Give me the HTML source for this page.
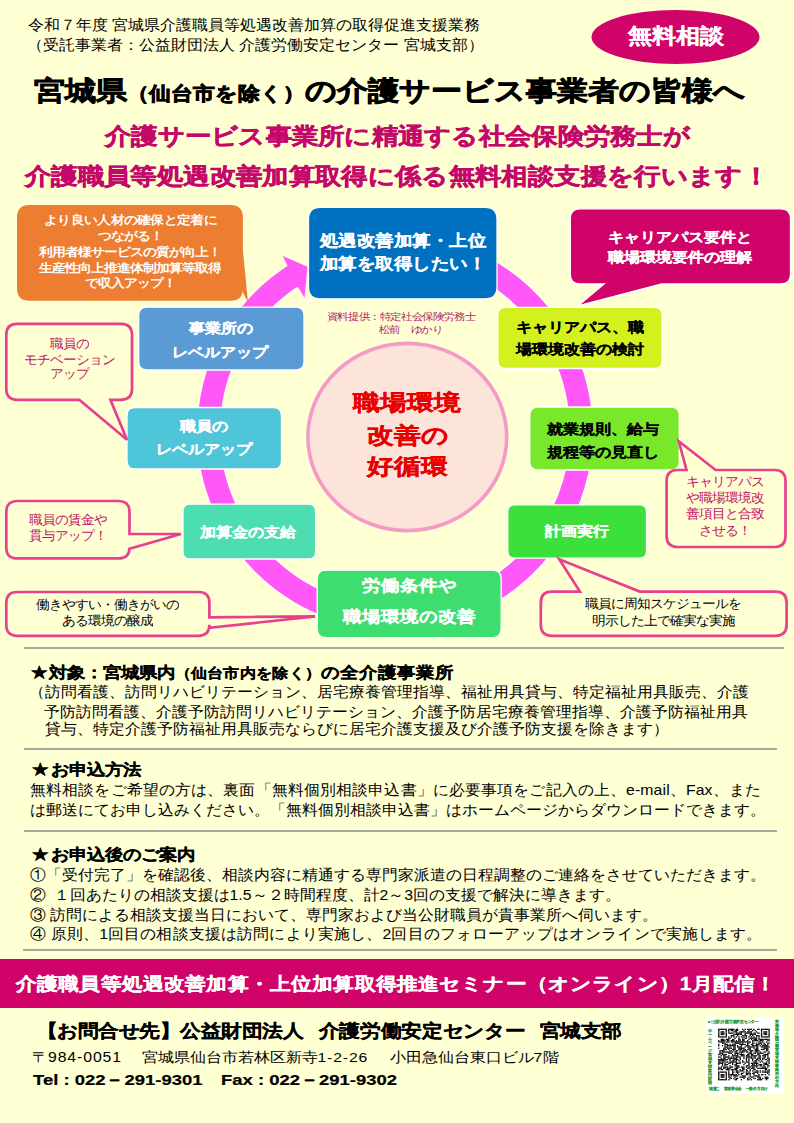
<!DOCTYPE html>
<html><head><meta charset="utf-8">
<style>
html,body{margin:0;padding:0;}
body{width:794px;height:1123px;position:relative;overflow:hidden;background:#FFFFD4;font-family:"Liberation Sans",sans-serif;color:#000;}
.t{position:absolute;white-space:nowrap;line-height:1;transform-origin:0 0;}
.t[style*="bold"]{-webkit-text-stroke:0.014em currentColor;}
.hr{position:absolute;height:2px;background:#A8A8A0;}
svg{position:absolute;left:0;top:0;}
.t i{font-style:normal;display:inline-block;text-align:center;}
.w0{width:16px}.w1{width:24px}.w2{width:31px}.w3{width:22px}.w4{width:23px}.w5{width:32px}.w6{width:26.27px}.w7{width:27.27px}.w8{width:26.36px}.w9{width:27.36px}.w10{width:13.3px}.w11{width:13px}.w12{width:18.5px}.w13{width:19px}.w14{width:10.6px}.w15{width:27px}.w16{width:28px}.w17{width:18px}.w18{width:16.3px}.w19{width:16.12px}.w20{width:16.15px}.w21{width:21.17px}.w22{width:22.17px}.w23{width:20.5px}.w24{width:20.7px}.w25{width:20.6px}
</style></head><body>
<div class="t" style="top:18px;font-size:16px;transform:scale(1,0.94);left:28px;"><i class="w0">令</i><i class="w0">和</i><i class="w0">７</i><i class="w0">年</i><i class="w0">度</i> <i class="w0">宮</i><i class="w0">城</i><i class="w0">県</i><i class="w0">介</i><i class="w0">護</i><i class="w0">職</i><i class="w0">員</i><i class="w0">等</i><i class="w0">処</i><i class="w0">遇</i><i class="w0">改</i><i class="w0">善</i><i class="w0">加</i><i class="w0">算</i><i class="w0">の</i><i class="w0">取</i><i class="w0">得</i><i class="w0">促</i><i class="w0">進</i><i class="w0">支</i><i class="w0">援</i><i class="w0">業</i><i class="w0">務</i></div>
<div class="t" style="top:37.5px;font-size:16px;transform:scale(1,0.94);left:27px;"><i class="w0">（</i><i class="w0">受</i><i class="w0">託</i><i class="w0">事</i><i class="w0">業</i><i class="w0">者</i><i class="w0">：</i><i class="w0">公</i><i class="w0">益</i><i class="w0">財</i><i class="w0">団</i><i class="w0">法</i><i class="w0">人</i> <i class="w0">介</i><i class="w0">護</i><i class="w0">労</i><i class="w0">働</i><i class="w0">安</i><i class="w0">定</i><i class="w0">セ</i><i class="w0">ン</i><i class="w0">タ</i><i class="w0">ー</i> <i class="w0">宮</i><i class="w0">城</i><i class="w0">支</i><i class="w0">部</i><i class="w0">）</i></div>
<svg width="794" height="80"><ellipse cx="675.5" cy="37" rx="84" ry="27" fill="#D00468"/></svg>
<div class="t" style="top:25.5px;font-size:23.6px;transform:scale(1,0.87);left:375.5px;width:600px;text-align:center;color:#fff;font-weight:bold;"><i class="w1">無</i><i class="w1">料</i><i class="w1">相</i><i class="w1">談</i></div>
<div class="t" style="top:77px;font-size:31px;transform:scale(1,0.87);left:34px;font-weight:bold;-webkit-text-stroke:0.9px;"><i class="w2">宮</i><i class="w2">城</i><i class="w2">県</i><span style="font-size:21.6px;"><i class="w3">（</i><i class="w3">仙</i><i class="w3">台</i><i class="w3">市</i><i class="w4">を</i><i class="w3">除</i><i class="w4">く</i><i class="w3">）</i></span><i class="w5">の</i><i class="w2">介</i><i class="w2">護</i><i class="w5">サ</i><i class="w2">ー</i><i class="w5">ビ</i><i class="w5">ス</i><i class="w2">事</i><i class="w2">業</i><i class="w2">者</i><i class="w5">の</i><i class="w2">皆</i><i class="w2">様</i><i class="w5">へ</i></div>
<div class="t" style="top:125px;font-size:26px;transform:scale(1,0.87);left:105px;color:#C4086A;font-weight:bold;letter-spacing:0.27px;-webkit-text-stroke:0.6px;"><i class="w6">介</i><i class="w6">護</i><i class="w7">サ</i><i class="w6">ー</i><i class="w7">ビ</i><i class="w7">ス</i><i class="w6">事</i><i class="w6">業</i><i class="w6">所</i><i class="w7">に</i><i class="w6">精</i><i class="w6">通</i><i class="w7">す</i><i class="w7">る</i><i class="w6">社</i><i class="w6">会</i><i class="w6">保</i><i class="w6">険</i><i class="w6">労</i><i class="w6">務</i><i class="w6">士</i><i class="w7">が</i></div>
<div class="t" style="top:164.5px;font-size:26px;transform:scale(1,0.87);left:25px;color:#C4086A;font-weight:bold;letter-spacing:0.36px;-webkit-text-stroke:0.6px;"><i class="w8">介</i><i class="w8">護</i><i class="w8">職</i><i class="w8">員</i><i class="w8">等</i><i class="w8">処</i><i class="w8">遇</i><i class="w8">改</i><i class="w8">善</i><i class="w8">加</i><i class="w8">算</i><i class="w8">取</i><i class="w8">得</i><i class="w9">に</i><i class="w8">係</i><i class="w9">る</i><i class="w8">無</i><i class="w8">料</i><i class="w8">相</i><i class="w8">談</i><i class="w8">支</i><i class="w8">援</i><i class="w9">を</i><i class="w8">行</i><i class="w9">い</i><i class="w9">ま</i><i class="w9">す</i><i class="w8">！</i></div>
<svg width="794" height="660">
<path d="M290.9,277.3 A186.35,186.35 0 1 0 378.9,246.2" fill="none" stroke="#fff" stroke-width="24.1"/>
<path d="M297.7,272.9 A186.35,186.35 0 1 0 378.9,246.2" fill="none" stroke="#FF57F8" stroke-width="22.5"/>
<polygon points="282.8,256.1 307.5,266.7 304.5,297.9 299,288.4 296,286 285,267 287.9,266.7" fill="#FF57F8"/>
<ellipse cx="407.3" cy="437" rx="99.4" ry="93.6" fill="#FCE4DA" stroke="#F59AC8" stroke-width="3.6"/>
<polygon points="242.9,250 248,302.5 241.3,289" fill="#ED7D31"/>
<path d="M29.5,205 L230.4,205 Q242.9,205 242.9,217.5 L242.9,288.3 Q242.9,300.8 230.4,300.8 L29.5,300.8 Q17,300.8 17,288.3 L17,217.5 Q17,205 29.5,205 Z" fill="#ED7D31"/>
<path d="M320.4,207.3 L485.1,207.3 Q497,207.3 497,219.20000000000002 L497,286.90000000000003 Q497,298.8 485.1,298.8 L320.4,298.8 Q308.5,298.8 308.5,286.90000000000003 L308.5,219.20000000000002 Q308.5,207.3 320.4,207.3 Z" fill="#0070C0" stroke="#fff" stroke-width="1.3"/>
<path d="M146.89999999999998,307.2 L295.8,307.2 Q304,307.2 304,315.4 L304,361.8 Q304,370 295.8,370 L146.89999999999998,370 Q138.7,370 138.7,361.8 L138.7,315.4 Q138.7,307.2 146.89999999999998,307.2 Z" fill="#5B9BD5" stroke="#fff" stroke-width="1.3"/>
<path d="M135.0,407.5 L273.5,407.5 Q281.5,407.5 281.5,415.5 L281.5,461.0 Q281.5,469 273.5,469 L135.0,469 Q127,469 127,461.0 L127,415.5 Q127,407.5 135.0,407.5 Z" fill="#4EC5D8" stroke="#fff" stroke-width="1.3"/>
<path d="M190.1,504.2 L308.5,504.2 Q315.6,504.2 315.6,511.3 L315.6,551.9 Q315.6,559 308.5,559 L190.1,559 Q183,559 183,551.9 L183,511.3 Q183,504.2 190.1,504.2 Z" fill="#4CDDB0" stroke="#fff" stroke-width="1.3"/>
<path d="M326.0,570.2 L492.4,570.2 Q501.2,570.2 501.2,579.0 L501.2,628.8000000000001 Q501.2,637.6 492.4,637.6 L326.0,637.6 Q317.2,637.6 317.2,628.8000000000001 L317.2,579.0 Q317.2,570.2 326.0,570.2 Z" fill="#3DDD70" stroke="#fff" stroke-width="1.3"/>
<path d="M514.7,504.8 L639.6,504.8 Q646.5,504.8 646.5,511.7 L646.5,551.3000000000001 Q646.5,558.2 639.6,558.2 L514.7,558.2 Q507.8,558.2 507.8,551.3000000000001 L507.8,511.7 Q507.8,504.8 514.7,504.8 Z" fill="#3CE03A" stroke="#fff" stroke-width="1.3"/>
<path d="M538.0,407 L671.0999999999999,407 Q679.3,407 679.3,415.2 L679.3,461.8 Q679.3,470 671.0999999999999,470 L538.0,470 Q529.8,470 529.8,461.8 L529.8,415.2 Q529.8,407 538.0,407 Z" fill="#7AE82A" stroke="#fff" stroke-width="1.3"/>
<path d="M505.8,307.3 L654.2,307.3 Q662.2,307.3 662.2,315.3 L662.2,360.5 Q662.2,368.5 654.2,368.5 L505.8,368.5 Q497.8,368.5 497.8,360.5 L497.8,315.3 Q497.8,307.3 505.8,307.3 Z" fill="#D4F01E" stroke="#fff" stroke-width="1.3"/>
<path d="M580.0999999999999,208.8 L780.7,208.8 Q790.5,208.8 790.5,218.60000000000002 L790.5,274.2 Q790.5,284 780.7,284 L661.7,284 L577.7,306 L604.2,284 L580.0999999999999,284 Q570.3,284 570.3,274.2 L570.3,218.60000000000002 Q570.3,208.8 580.0999999999999,208.8 Z" fill="#D00468" stroke="#fff" stroke-width="1.3"/>
<path d="M17.3,323.8 L121.0,323.8 Q132.0,323.8 132.0,334.8 L132.0,388.8 Q132.0,399.8 121.0,399.8 L110.4,399.8 L127,439.7 L79.3,399.8 L17.3,399.8 Q6.3,399.8 6.3,388.8 L6.3,334.8 Q6.3,323.8 17.3,323.8 Z" fill="#FFFFD4" stroke="#E8408C" stroke-width="2.7" stroke-linejoin="miter"/>
<path d="M17.3,501 L118.5,501 Q129.5,501 129.5,512 L129.5,534 L180.9,534 L129.5,548.8 L129.5,547.4 Q129.5,558.4 118.5,558.4 L17.3,558.4 Q6.3,558.4 6.3,547.4 L6.3,512 Q6.3,501 17.3,501 Z" fill="#FFFFD4" stroke="#E8408C" stroke-width="2.7" stroke-linejoin="miter"/>
<path d="M17.3,592 L198.4,592 Q209.4,592 209.4,603 L209.4,617.3 L315.2,616.4 L209.4,627.8 L209.4,624.8 Q209.4,635.8 198.4,635.8 L17.3,635.8 Q6.3,635.8 6.3,624.8 L6.3,603 Q6.3,592 17.3,592 Z" fill="#FFFFD4" stroke="#E8408C" stroke-width="2.7" stroke-linejoin="miter"/>
<path d="M677.6,470 L686.5,470 L678.8,441.3 L715.6,470 L774.5,470 Q785.5,470 785.5,481 L785.5,536 Q785.5,547 774.5,547 L677.6,547 Q666.6,547 666.6,536 L666.6,481 Q666.6,470 677.6,470 Z" fill="#FFFFD4" stroke="#E8408C" stroke-width="2.7" stroke-linejoin="miter"/>
<path d="M551.8,591.6 L579.9,591.6 L559.3,559.3 L639.7,591.6 L775.6,591.6 Q786.6,591.6 786.6,602.6 L786.6,624.8 Q786.6,635.8 775.6,635.8 L551.8,635.8 Q540.8,635.8 540.8,624.8 L540.8,602.6 Q540.8,591.6 551.8,591.6 Z" fill="#FFFFD4" stroke="#E8408C" stroke-width="2.7" stroke-linejoin="miter"/>
</svg>
<div class="t" style="top:214px;font-size:13.3px;transform:scale(1,0.87);left:-169.5px;width:600px;text-align:center;color:#fff;font-weight:bold;-webkit-text-stroke:0;letter-spacing:0.3px;"><i class="w10">よ</i><i class="w10">り</i><i class="w10">良</i><i class="w10">い</i><i class="w10">人</i><i class="w10">材</i><i class="w10">の</i><i class="w10">確</i><i class="w10">保</i><i class="w10">と</i><i class="w10">定</i><i class="w10">着</i><i class="w10">に</i></div>
<div class="t" style="top:229.5px;font-size:13.3px;transform:scale(1,0.87);left:-169.5px;width:600px;text-align:center;color:#fff;font-weight:bold;-webkit-text-stroke:0;"><i class="w11">つ</i><i class="w11">な</i><i class="w11">が</i><i class="w11">る</i><i class="w11">！</i></div>
<div class="t" style="top:245.8px;font-size:13.3px;transform:scale(1,0.87);left:-170px;width:600px;text-align:center;color:#fff;font-weight:bold;-webkit-text-stroke:0;"><i class="w11">利</i><i class="w11">用</i><i class="w11">者</i><i class="w11">様</i><i class="w11">サ</i><i class="w11">ー</i><i class="w11">ビ</i><i class="w11">ス</i><i class="w11">の</i><i class="w11">質</i><i class="w11">が</i><i class="w11">向</i><i class="w11">上</i><i class="w11">！</i></div>
<div class="t" style="top:262px;font-size:13.3px;transform:scale(1,0.87);left:-170px;width:600px;text-align:center;color:#fff;font-weight:bold;-webkit-text-stroke:0;"><i class="w11">生</i><i class="w11">産</i><i class="w11">性</i><i class="w11">向</i><i class="w11">上</i><i class="w11">推</i><i class="w11">進</i><i class="w11">体</i><i class="w11">制</i><i class="w11">加</i><i class="w11">算</i><i class="w11">等</i><i class="w11">取</i><i class="w11">得</i></div>
<div class="t" style="top:277.3px;font-size:13.3px;transform:scale(1,0.87);left:-169.5px;width:600px;text-align:center;color:#fff;font-weight:bold;-webkit-text-stroke:0;"><i class="w11">で</i><i class="w11">収</i><i class="w11">入</i><i class="w11">ア</i><i class="w11">ッ</i><i class="w11">プ</i><i class="w11">！</i></div>
<div class="t" style="top:233px;font-size:18.4px;transform:scale(1,0.87);left:103px;width:600px;text-align:center;color:#fff;font-weight:bold;letter-spacing:0.5px;"><i class="w12">処</i><i class="w12">遇</i><i class="w12">改</i><i class="w12">善</i><i class="w12">加</i><i class="w12">算</i><i class="w12">・</i><i class="w12">上</i><i class="w12">位</i></div>
<div class="t" style="top:255.5px;font-size:18.4px;transform:scale(1,0.87);left:103px;width:600px;text-align:center;color:#fff;font-weight:bold;letter-spacing:0.5px;"><i class="w12">加</i><i class="w12">算</i><i class="w12">を</i><i class="w12">取</i><i class="w12">得</i><i class="w12">し</i><i class="w12">た</i><i class="w12">い</i><i class="w12">！</i></div>
<div class="t" style="top:321.5px;font-size:16px;transform:scale(1,0.87);left:-79px;width:600px;text-align:center;color:#fff;font-weight:bold;"><i class="w0">事</i><i class="w0">業</i><i class="w0">所</i><i class="w0">の</i></div>
<div class="t" style="top:346px;font-size:16px;transform:scale(1,0.87);left:-80px;width:600px;text-align:center;color:#fff;font-weight:bold;"><i class="w0">レ</i><i class="w0">ベ</i><i class="w0">ル</i><i class="w0">ア</i><i class="w0">ッ</i><i class="w0">プ</i></div>
<div class="t" style="top:420px;font-size:16px;transform:scale(1,0.87);left:-96px;width:600px;text-align:center;color:#fff;font-weight:bold;"><i class="w0">職</i><i class="w0">員</i><i class="w0">の</i></div>
<div class="t" style="top:443px;font-size:16px;transform:scale(1,0.87);left:-96px;width:600px;text-align:center;color:#fff;font-weight:bold;"><i class="w0">レ</i><i class="w0">ベ</i><i class="w0">ル</i><i class="w0">ア</i><i class="w0">ッ</i><i class="w0">プ</i></div>
<div class="t" style="top:526px;font-size:16px;transform:scale(1,0.87);left:-52px;width:600px;text-align:center;color:#fff;font-weight:bold;"><i class="w0">加</i><i class="w0">算</i><i class="w0">金</i><i class="w0">の</i><i class="w0">支</i><i class="w0">給</i></div>
<div class="t" style="top:577.5px;font-size:18.8px;transform:scale(1,0.87);left:109.30000000000001px;width:600px;text-align:center;color:#fff;font-weight:bold;"><i class="w13">労</i><i class="w13">働</i><i class="w13">条</i><i class="w13">件</i><i class="w13">や</i></div>
<div class="t" style="top:609px;font-size:18.6px;transform:scale(1,0.87);left:109px;width:600px;text-align:center;color:#fff;font-weight:bold;"><i class="w13">職</i><i class="w13">場</i><i class="w13">環</i><i class="w13">境</i><i class="w13">の</i><i class="w13">改</i><i class="w13">善</i></div>
<div class="t" style="top:525px;font-size:16px;transform:scale(1,0.87);left:277px;width:600px;text-align:center;color:#fff;font-weight:bold;"><i class="w0">計</i><i class="w0">画</i><i class="w0">実</i><i class="w0">行</i></div>
<div class="t" style="top:422.5px;font-size:16px;transform:scale(1,0.87);left:303px;width:600px;text-align:center;font-weight:bold;"><i class="w0">就</i><i class="w0">業</i><i class="w0">規</i><i class="w0">則</i><i class="w0">、</i><i class="w0">給</i><i class="w0">与</i></div>
<div class="t" style="top:445.5px;font-size:16px;transform:scale(1,0.87);left:303px;width:600px;text-align:center;font-weight:bold;"><i class="w0">規</i><i class="w0">程</i><i class="w0">等</i><i class="w0">の</i><i class="w0">見</i><i class="w0">直</i><i class="w0">し</i></div>
<div class="t" style="top:320.5px;font-size:16px;transform:scale(1,0.87);left:280px;width:600px;text-align:center;font-weight:bold;"><i class="w0">キ</i><i class="w0">ャ</i><i class="w0">リ</i><i class="w0">ア</i><i class="w0">パ</i><i class="w0">ス</i><i class="w0">、</i><i class="w0">職</i></div>
<div class="t" style="top:343px;font-size:16px;transform:scale(1,0.87);left:280px;width:600px;text-align:center;font-weight:bold;"><i class="w0">場</i><i class="w0">環</i><i class="w0">境</i><i class="w0">改</i><i class="w0">善</i><i class="w0">の</i><i class="w0">検</i><i class="w0">討</i></div>
<div class="t" style="top:230.5px;font-size:15.7px;transform:scale(1,0.87);left:380px;width:600px;text-align:center;color:#fff;font-weight:bold;"><i class="w0">キ</i><i class="w0">ャ</i><i class="w0">リ</i><i class="w0">ア</i><i class="w0">パ</i><i class="w0">ス</i><i class="w0">要</i><i class="w0">件</i><i class="w0">と</i></div>
<div class="t" style="top:250.5px;font-size:15.7px;transform:scale(1,0.87);left:380px;width:600px;text-align:center;color:#fff;font-weight:bold;"><i class="w0">職</i><i class="w0">場</i><i class="w0">環</i><i class="w0">境</i><i class="w0">要</i><i class="w0">件</i><i class="w0">の</i><i class="w0">理</i><i class="w0">解</i></div>
<div class="t" style="top:337.7px;font-size:13.3px;transform:scale(1,0.95);left:-231px;width:600px;text-align:center;color:#C0106A;"><i class="w11">職</i><i class="w11">員</i><i class="w11">の</i></div>
<div class="t" style="top:353.5px;font-size:13.3px;transform:scale(1,0.95);left:-231px;width:600px;text-align:center;color:#C0106A;"><i class="w11">モ</i><i class="w11">チ</i><i class="w11">ベ</i><i class="w11">ー</i><i class="w11">シ</i><i class="w11">ョ</i><i class="w11">ン</i></div>
<div class="t" style="top:368.3px;font-size:13.3px;transform:scale(1,0.95);left:-231px;width:600px;text-align:center;color:#C0106A;"><i class="w11">ア</i><i class="w11">ッ</i><i class="w11">プ</i></div>
<div class="t" style="top:513.8px;font-size:13.3px;transform:scale(1,0.95);left:-232px;width:600px;text-align:center;color:#C0106A;"><i class="w11">職</i><i class="w11">員</i><i class="w11">の</i><i class="w11">賃</i><i class="w11">金</i><i class="w11">や</i></div>
<div class="t" style="top:529.6px;font-size:13.3px;transform:scale(1,0.95);left:-232px;width:600px;text-align:center;color:#C0106A;"><i class="w11">貫</i><i class="w11">与</i><i class="w11">ア</i><i class="w11">ッ</i><i class="w11">プ</i><i class="w11">！</i></div>
<div class="t" style="top:599px;font-size:13.3px;transform:scale(1,0.95);left:-193px;width:600px;text-align:center;"><i class="w11">働</i><i class="w11">き</i><i class="w11">や</i><i class="w11">す</i><i class="w11">い</i><i class="w11">・</i><i class="w11">働</i><i class="w11">き</i><i class="w11">が</i><i class="w11">い</i><i class="w11">の</i></div>
<div class="t" style="top:614.7px;font-size:13.3px;transform:scale(1,0.95);left:-193px;width:600px;text-align:center;"><i class="w11">あ</i><i class="w11">る</i><i class="w11">環</i><i class="w11">境</i><i class="w11">の</i><i class="w11">醸</i><i class="w11">成</i></div>
<div class="t" style="top:476px;font-size:13.3px;transform:scale(1,0.95);left:425px;width:600px;text-align:center;color:#C0106A;"><i class="w11">キ</i><i class="w11">ャ</i><i class="w11">リ</i><i class="w11">ア</i><i class="w11">パ</i><i class="w11">ス</i></div>
<div class="t" style="top:492.3px;font-size:13.3px;transform:scale(1,0.95);left:425px;width:600px;text-align:center;color:#C0106A;"><i class="w11">や</i><i class="w11">職</i><i class="w11">場</i><i class="w11">環</i><i class="w11">境</i><i class="w11">改</i></div>
<div class="t" style="top:508.3px;font-size:13.3px;transform:scale(1,0.95);left:425px;width:600px;text-align:center;color:#C0106A;"><i class="w11">善</i><i class="w11">項</i><i class="w11">目</i><i class="w11">と</i><i class="w11">合</i><i class="w11">致</i></div>
<div class="t" style="top:524.5px;font-size:13.3px;transform:scale(1,0.95);left:425px;width:600px;text-align:center;color:#C0106A;"><i class="w11">さ</i><i class="w11">せ</i><i class="w11">る</i><i class="w11">！</i></div>
<div class="t" style="top:598.2px;font-size:13.3px;transform:scale(1,0.95);left:363px;width:600px;text-align:center;"><i class="w11">職</i><i class="w11">員</i><i class="w11">に</i><i class="w11">周</i><i class="w11">知</i><i class="w11">ス</i><i class="w11">ケ</i><i class="w11">ジ</i><i class="w11">ュ</i><i class="w11">ー</i><i class="w11">ル</i><i class="w11">を</i></div>
<div class="t" style="top:614.8px;font-size:13.3px;transform:scale(1,0.95);left:363px;width:600px;text-align:center;"><i class="w11">明</i><i class="w11">示</i><i class="w11">し</i><i class="w11">た</i><i class="w11">上</i><i class="w11">で</i><i class="w11">確</i><i class="w11">実</i><i class="w11">な</i><i class="w11">実</i><i class="w11">施</i></div>
<div class="t" style="top:311.5px;font-size:11px;transform:scale(1,0.87);left:101px;width:600px;text-align:center;color:#B0246E;letter-spacing:-0.4px;"><i class="w14">資</i><i class="w14">料</i><i class="w14">提</i><i class="w14">供</i><i class="w14">：</i><i class="w14">特</i><i class="w14">定</i><i class="w14">社</i><i class="w14">会</i><i class="w14">保</i><i class="w14">険</i><i class="w14">労</i><i class="w14">務</i><i class="w14">士</i></div>
<div class="t" style="top:324.5px;font-size:11px;transform:scale(1,0.87);left:110.5px;width:600px;text-align:center;color:#B0246E;letter-spacing:-0.4px;"><i class="w14">松</i><i class="w14">前</i><i class="w14">　</i><i class="w14">ゆ</i><i class="w14">か</i><i class="w14">り</i></div>
<div class="t" style="top:392px;font-size:27px;transform:scale(1,0.82);left:107.30000000000001px;width:600px;text-align:center;color:#E80000;font-weight:bold;"><i class="w15">職</i><i class="w15">場</i><i class="w15">環</i><i class="w15">境</i></div>
<div class="t" style="top:424.5px;font-size:27px;transform:scale(1,0.82);left:108px;width:600px;text-align:center;color:#E80000;font-weight:bold;"><i class="w15">改</i><i class="w15">善</i><i class="w16">の</i></div>
<div class="t" style="top:455.5px;font-size:27px;transform:scale(1,0.82);left:107.30000000000001px;width:600px;text-align:center;color:#E80000;font-weight:bold;"><i class="w15">好</i><i class="w15">循</i><i class="w15">環</i></div>
<div class="hr" style="left:24px;top:647.2px;width:760px;"></div>
<div class="hr" style="left:24px;top:748px;width:753px;"></div>
<div class="hr" style="left:24px;top:830.2px;width:753px;"></div>
<div class="hr" style="left:23px;top:949.2px;width:754px;"></div>
<div class="t" style="top:665px;font-size:18.3px;transform:scale(1,0.87);left:30.5px;font-weight:bold;">★<span style="margin-left:2px"></span><i class="w17">対</i><i class="w17">象</i><i class="w17">：</i><i class="w17">宮</i><i class="w17">城</i><i class="w17">県</i><i class="w17">内</i><span style="font-size:16px;letter-spacing:0.3px"><i class="w18">（</i><i class="w18">仙</i><i class="w18">台</i><i class="w18">市</i><i class="w18">内</i><i class="w18">を</i><i class="w18">除</i><i class="w18">く</i><i class="w18">）</i></span><span style="font-size:18.6px"><i class="w13">の</i><i class="w13">全</i><i class="w13">介</i><i class="w13">護</i><i class="w13">事</i><i class="w13">業</i><i class="w13">所</i></span></div>
<div class="t" style="top:685.2px;font-size:15.8px;transform:scale(1,0.95);left:29px;"><i class="w0">（</i><i class="w0">訪</i><i class="w0">問</i><i class="w0">看</i><i class="w0">護</i><i class="w0">、</i><i class="w0">訪</i><i class="w0">問</i><i class="w0">リ</i><i class="w0">ハ</i><i class="w0">ビ</i><i class="w0">リ</i><i class="w0">テ</i><i class="w0">ー</i><i class="w0">シ</i><i class="w0">ョ</i><i class="w0">ン</i><i class="w0">、</i><i class="w0">居</i><i class="w0">宅</i><i class="w0">療</i><i class="w0">養</i><i class="w0">管</i><i class="w0">理</i><i class="w0">指</i><i class="w0">導</i><i class="w0">、</i><i class="w0">福</i><i class="w0">祉</i><i class="w0">用</i><i class="w0">具</i><i class="w0">貸</i><i class="w0">与</i><i class="w0">、</i><i class="w0">特</i><i class="w0">定</i><i class="w0">福</i><i class="w0">祉</i><i class="w0">用</i><i class="w0">具</i><i class="w0">販</i><i class="w0">売</i><i class="w0">、</i><i class="w0">介</i><i class="w0">護</i></div>
<div class="t" style="top:704.6px;font-size:15.8px;transform:scale(1,0.95);left:44px;"><i class="w0">予</i><i class="w0">防</i><i class="w0">訪</i><i class="w0">問</i><i class="w0">看</i><i class="w0">護</i><i class="w0">、</i><i class="w0">介</i><i class="w0">護</i><i class="w0">予</i><i class="w0">防</i><i class="w0">訪</i><i class="w0">問</i><i class="w0">リ</i><i class="w0">ハ</i><i class="w0">ビ</i><i class="w0">リ</i><i class="w0">テ</i><i class="w0">ー</i><i class="w0">シ</i><i class="w0">ョ</i><i class="w0">ン</i><i class="w0">、</i><i class="w0">介</i><i class="w0">護</i><i class="w0">予</i><i class="w0">防</i><i class="w0">居</i><i class="w0">宅</i><i class="w0">療</i><i class="w0">養</i><i class="w0">管</i><i class="w0">理</i><i class="w0">指</i><i class="w0">導</i><i class="w0">、</i><i class="w0">介</i><i class="w0">護</i><i class="w0">予</i><i class="w0">防</i><i class="w0">福</i><i class="w0">祉</i><i class="w0">用</i><i class="w0">具</i></div>
<div class="t" style="top:722.2px;font-size:15.8px;transform:scale(1,0.95);left:45px;"><i class="w0">貸</i><i class="w0">与</i><i class="w0">、</i><i class="w0">特</i><i class="w0">定</i><i class="w0">介</i><i class="w0">護</i><i class="w0">予</i><i class="w0">防</i><i class="w0">福</i><i class="w0">祉</i><i class="w0">用</i><i class="w0">具</i><i class="w0">販</i><i class="w0">売</i><i class="w0">な</i><i class="w0">ら</i><i class="w0">び</i><i class="w0">に</i><i class="w0">居</i><i class="w0">宅</i><i class="w0">介</i><i class="w0">護</i><i class="w0">支</i><i class="w0">援</i><i class="w0">及</i><i class="w0">び</i><i class="w0">介</i><i class="w0">護</i><i class="w0">予</i><i class="w0">防</i><i class="w0">支</i><i class="w0">援</i><i class="w0">を</i><i class="w0">除</i><i class="w0">き</i><i class="w0">ま</i><i class="w0">す</i><i class="w0">）</i></div>
<div class="t" style="top:762px;font-size:18.2px;transform:scale(1,0.87);left:32px;font-weight:bold;">★<span style="margin-left:3px"></span><i class="w17">お</i><i class="w17">申</i><i class="w17">込</i><i class="w17">方</i><i class="w17">法</i></div>
<div class="t" style="top:782.8px;font-size:15.8px;transform:scale(1,0.95);left:30px;letter-spacing:0.12px;"><i class="w19">無</i><i class="w19">料</i><i class="w19">相</i><i class="w19">談</i><i class="w19">を</i><i class="w19">ご</i><i class="w19">希</i><i class="w19">望</i><i class="w19">の</i><i class="w19">方</i><i class="w19">は</i><i class="w19">、</i><i class="w19">裏</i><i class="w19">面</i><i class="w19">「</i><i class="w19">無</i><i class="w19">料</i><i class="w19">個</i><i class="w19">別</i><i class="w19">相</i><i class="w19">談</i><i class="w19">申</i><i class="w19">込</i><i class="w19">書</i><i class="w19">」</i><i class="w19">に</i><i class="w19">必</i><i class="w19">要</i><i class="w19">事</i><i class="w19">項</i><i class="w19">を</i><i class="w19">ご</i><i class="w19">記</i><i class="w19">入</i><i class="w19">の</i><i class="w19">上</i><i class="w19">、</i>e-mail<i class="w19">、</i>Fax<i class="w19">、</i><i class="w19">ま</i><i class="w19">た</i></div>
<div class="t" style="top:803.0px;font-size:15.8px;transform:scale(1,0.95);left:30px;"><i class="w0">は</i><i class="w0">郵</i><i class="w0">送</i><i class="w0">に</i><i class="w0">て</i><i class="w0">お</i><i class="w0">申</i><i class="w0">し</i><i class="w0">込</i><i class="w0">み</i><i class="w0">く</i><i class="w0">だ</i><i class="w0">さ</i><i class="w0">い</i><i class="w0">。</i><i class="w0">「</i><i class="w0">無</i><i class="w0">料</i><i class="w0">個</i><i class="w0">別</i><i class="w0">相</i><i class="w0">談</i><i class="w0">申</i><i class="w0">込</i><i class="w0">書</i><i class="w0">」</i><i class="w0">は</i><i class="w0">ホ</i><i class="w0">ー</i><i class="w0">ム</i><i class="w0">ペ</i><i class="w0">ー</i><i class="w0">ジ</i><i class="w0">か</i><i class="w0">ら</i><i class="w0">ダ</i><i class="w0">ウ</i><i class="w0">ン</i><i class="w0">ロ</i><i class="w0">ー</i><i class="w0">ド</i><i class="w0">で</i><i class="w0">き</i><i class="w0">ま</i><i class="w0">す</i><i class="w0">。</i></div>
<div class="t" style="top:846.8px;font-size:18.2px;transform:scale(1,0.87);left:32px;font-weight:bold;">★<span style="margin-left:3px"></span><i class="w17">お</i><i class="w17">申</i><i class="w17">込</i><i class="w17">後</i><i class="w17">の</i><i class="w17">ご</i><i class="w17">案</i><i class="w17">内</i></div>
<div class="t" style="top:867.8px;font-size:15.8px;transform:scale(1,0.95);left:30px;">①「受<i class="w0">付</i><i class="w0">完</i><i class="w0">了</i><i class="w0">」</i><i class="w0">を</i><i class="w0">確</i><i class="w0">認</i><i class="w0">後</i><i class="w0">、</i><i class="w0">相</i><i class="w0">談</i><i class="w0">内</i><i class="w0">容</i><i class="w0">に</i><i class="w0">精</i><i class="w0">通</i><i class="w0">す</i><i class="w0">る</i><i class="w0">専</i><i class="w0">門</i><i class="w0">家</i><i class="w0">派</i><i class="w0">遣</i><i class="w0">の</i><i class="w0">日</i><i class="w0">程</i><i class="w0">調</i><i class="w0">整</i><i class="w0">の</i><i class="w0">ご</i><i class="w0">連</i><i class="w0">絡</i><i class="w0">を</i><i class="w0">さ</i><i class="w0">せ</i><i class="w0">て</i><i class="w0">い</i><i class="w0">た</i><i class="w0">だ</i><i class="w0">き</i><i class="w0">ま</i><i class="w0">す</i><i class="w0">。</i></div>
<div class="t" style="top:888.0px;font-size:15.8px;transform:scale(1,0.95);left:30px;">②&nbsp;&thinsp;１回<i class="w0">あ</i><i class="w0">た</i><i class="w0">り</i><i class="w0">の</i><i class="w0">相</i><i class="w0">談</i><i class="w0">支</i><i class="w0">援</i><i class="w0">は</i>1.5<i class="w0">～</i><i class="w0">２</i><i class="w0">時</i><i class="w0">間</i><i class="w0">程</i><i class="w0">度</i><i class="w0">、</i><i class="w0">計</i>2<i class="w0">～</i>3<i class="w0">回</i><i class="w0">の</i><i class="w0">支</i><i class="w0">援</i><i class="w0">で</i><i class="w0">解</i><i class="w0">決</i><i class="w0">に</i><i class="w0">導</i><i class="w0">き</i><i class="w0">ま</i><i class="w0">す</i><i class="w0">。</i></div>
<div class="t" style="top:907.6px;font-size:15.8px;transform:scale(1,0.95);left:30px;">③ 訪<i class="w0">問</i><i class="w0">に</i><i class="w0">よ</i><i class="w0">る</i><i class="w0">相</i><i class="w0">談</i><i class="w0">支</i><i class="w0">援</i><i class="w0">当</i><i class="w0">日</i><i class="w0">に</i><i class="w0">お</i><i class="w0">い</i><i class="w0">て</i><i class="w0">、</i><i class="w0">専</i><i class="w0">門</i><i class="w0">家</i><i class="w0">お</i><i class="w0">よ</i><i class="w0">び</i><i class="w0">当</i><i class="w0">公</i><i class="w0">財</i><i class="w0">職</i><i class="w0">員</i><i class="w0">が</i><i class="w0">貴</i><i class="w0">事</i><i class="w0">業</i><i class="w0">所</i><i class="w0">へ</i><i class="w0">伺</i><i class="w0">い</i><i class="w0">ま</i><i class="w0">す</i><i class="w0">。</i></div>
<div class="t" style="top:927.0px;font-size:15.8px;transform:scale(1,0.95);left:30px;letter-spacing:0.15px;">④ 原<i class="w20">則</i><i class="w20">、</i>1<i class="w20">回</i><i class="w20">目</i><i class="w20">の</i><i class="w20">相</i><i class="w20">談</i><i class="w20">支</i><i class="w20">援</i><i class="w20">は</i><i class="w20">訪</i><i class="w20">問</i><i class="w20">に</i><i class="w20">よ</i><i class="w20">り</i><i class="w20">実</i><i class="w20">施</i><i class="w20">し</i><i class="w20">、</i>2<i class="w20">回</i><i class="w20">目</i><i class="w20">の</i><i class="w20">フ</i><i class="w20">ォ</i><i class="w20">ロ</i><i class="w20">ー</i><i class="w20">ア</i><i class="w20">ッ</i><i class="w20">プ</i><i class="w20">は</i><i class="w20">オ</i><i class="w20">ン</i><i class="w20">ラ</i><i class="w20">イ</i><i class="w20">ン</i><i class="w20">で</i><i class="w20">実</i><i class="w20">施</i><i class="w20">し</i><i class="w20">ま</i><i class="w20">す</i><i class="w20">。</i></div>
<div style="position:absolute;left:0;top:959px;width:794px;height:49px;background:#D00468;"></div>
<div class="t" style="top:973.5px;font-size:21px;transform:scale(1,0.87);left:16px;color:#fff;font-weight:bold;letter-spacing:0.17px;"><i class="w21">介</i><i class="w21">護</i><i class="w21">職</i><i class="w21">員</i><i class="w21">等</i><i class="w21">処</i><i class="w21">遇</i><i class="w21">改</i><i class="w21">善</i><i class="w21">加</i><i class="w21">算</i><i class="w21">・</i><i class="w21">上</i><i class="w21">位</i><i class="w21">加</i><i class="w21">算</i><i class="w21">取</i><i class="w21">得</i><i class="w21">推</i><i class="w21">進</i><i class="w22">セ</i><i class="w22">ミ</i><i class="w22">ナ</i><i class="w21">ー</i><i class="w21">（</i><i class="w22">オ</i><i class="w22">ン</i><i class="w22">ラ</i><i class="w22">イ</i><i class="w22">ン</i><i class="w21">）</i>1<i class="w21">月</i><i class="w21">配</i><i class="w21">信</i><i class="w21">！</i></div>
<div class="t" style="top:1022px;font-size:20.4px;transform:scale(1,0.87);left:36.5px;font-weight:bold;letter-spacing:0.5px;"><i class="w23">【</i><i class="w23">お</i><i class="w23">問</i><i class="w23">合</i><i class="w23">せ</i><i class="w23">先</i><i class="w23">】</i><i class="w23">公</i><i class="w23">益</i><i class="w23">財</i><i class="w23">団</i><i class="w23">法</i><i class="w23">人</i></div>
<div class="t" style="top:1022px;font-size:20.4px;transform:scale(1,0.87);left:318.5px;font-weight:bold;letter-spacing:0.7px;"><i class="w24">介</i><i class="w24">護</i><i class="w24">労</i><i class="w24">働</i><i class="w24">安</i><i class="w24">定</i><i class="w24">セ</i><i class="w24">ン</i><i class="w24">タ</i><i class="w24">ー</i></div>
<div class="t" style="top:1022px;font-size:20.4px;transform:scale(1,0.87);left:539.5px;font-weight:bold;letter-spacing:0.6px;"><i class="w25">宮</i><i class="w25">城</i><i class="w25">支</i><i class="w25">部</i></div>
<div class="t" style="top:1050.5px;font-size:15.8px;transform:scale(1,0.87);left:32px;"><i class="w0">〒</i><span style="letter-spacing:0.9px">984-0051</span></div>
<div class="t" style="top:1050.5px;font-size:15.7px;transform:scale(1,0.87);left:141.5px;"><i class="w0">宮</i><i class="w0">城</i><i class="w0">県</i><i class="w0">仙</i><i class="w0">台</i><i class="w0">市</i><i class="w0">若</i><i class="w0">林</i><i class="w0">区</i><i class="w0">新</i><i class="w0">寺</i><span style="letter-spacing:0.9px">1-2-26</span></div>
<div class="t" style="top:1050.5px;font-size:15.7px;transform:scale(1,0.87);left:389.5px;"><i class="w0">小</i><i class="w0">田</i><i class="w0">急</i><i class="w0">仙</i><i class="w0">台</i><i class="w0">東</i><i class="w0">口</i><i class="w0">ビ</i><i class="w0">ル</i><span style="letter-spacing:0.9px">7</span><i class="w0">階</i></div>
<div class="t" style="top:1072px;font-size:15.5px;transform:scale(1.19,1);left:33px;font-weight:bold;">Tel : 022<i class="w0">－</i>291-9301</div>
<div class="t" style="top:1072px;font-size:15.5px;transform:scale(1.19,1);left:221px;font-weight:bold;">Fax : 022<i class="w0">－</i>291-9302</div>
<div style="position:absolute;left:705px;top:1016.5px;width:79px;height:77.5px;background:#fff;"></div>
<svg width="794" height="1123"><g fill="#000"><rect x="718.10" y="1028.70" width="1.31" height="1.31"/><rect x="719.36" y="1028.70" width="1.31" height="1.31"/><rect x="720.62" y="1028.70" width="1.31" height="1.31"/><rect x="721.88" y="1028.70" width="1.31" height="1.31"/><rect x="723.13" y="1028.70" width="1.31" height="1.31"/><rect x="724.39" y="1028.70" width="1.31" height="1.31"/><rect x="725.65" y="1028.70" width="1.31" height="1.31"/><rect x="728.17" y="1028.70" width="1.31" height="1.31"/><rect x="729.43" y="1028.70" width="1.31" height="1.31"/><rect x="730.69" y="1028.70" width="1.31" height="1.31"/><rect x="731.94" y="1028.70" width="1.31" height="1.31"/><rect x="733.20" y="1028.70" width="1.31" height="1.31"/><rect x="735.72" y="1028.70" width="1.31" height="1.31"/><rect x="736.98" y="1028.70" width="1.31" height="1.31"/><rect x="742.01" y="1028.70" width="1.31" height="1.31"/><rect x="744.53" y="1028.70" width="1.31" height="1.31"/><rect x="747.05" y="1028.70" width="1.31" height="1.31"/><rect x="748.30" y="1028.70" width="1.31" height="1.31"/><rect x="749.56" y="1028.70" width="1.31" height="1.31"/><rect x="750.82" y="1028.70" width="1.31" height="1.31"/><rect x="753.34" y="1028.70" width="1.31" height="1.31"/><rect x="757.11" y="1028.70" width="1.31" height="1.31"/><rect x="758.37" y="1028.70" width="1.31" height="1.31"/><rect x="760.89" y="1028.70" width="1.31" height="1.31"/><rect x="762.15" y="1028.70" width="1.31" height="1.31"/><rect x="763.41" y="1028.70" width="1.31" height="1.31"/><rect x="764.67" y="1028.70" width="1.31" height="1.31"/><rect x="765.92" y="1028.70" width="1.31" height="1.31"/><rect x="767.18" y="1028.70" width="1.31" height="1.31"/><rect x="768.44" y="1028.70" width="1.31" height="1.31"/><rect x="718.10" y="1029.96" width="1.31" height="1.31"/><rect x="725.65" y="1029.96" width="1.31" height="1.31"/><rect x="728.17" y="1029.96" width="1.31" height="1.31"/><rect x="730.69" y="1029.96" width="1.31" height="1.31"/><rect x="731.94" y="1029.96" width="1.31" height="1.31"/><rect x="734.46" y="1029.96" width="1.31" height="1.31"/><rect x="735.72" y="1029.96" width="1.31" height="1.31"/><rect x="736.98" y="1029.96" width="1.31" height="1.31"/><rect x="743.27" y="1029.96" width="1.31" height="1.31"/><rect x="748.30" y="1029.96" width="1.31" height="1.31"/><rect x="752.08" y="1029.96" width="1.31" height="1.31"/><rect x="754.60" y="1029.96" width="1.31" height="1.31"/><rect x="760.89" y="1029.96" width="1.31" height="1.31"/><rect x="768.44" y="1029.96" width="1.31" height="1.31"/><rect x="718.10" y="1031.22" width="1.31" height="1.31"/><rect x="720.62" y="1031.22" width="1.31" height="1.31"/><rect x="721.88" y="1031.22" width="1.31" height="1.31"/><rect x="723.13" y="1031.22" width="1.31" height="1.31"/><rect x="725.65" y="1031.22" width="1.31" height="1.31"/><rect x="728.17" y="1031.22" width="1.31" height="1.31"/><rect x="733.20" y="1031.22" width="1.31" height="1.31"/><rect x="734.46" y="1031.22" width="1.31" height="1.31"/><rect x="735.72" y="1031.22" width="1.31" height="1.31"/><rect x="739.50" y="1031.22" width="1.31" height="1.31"/><rect x="740.75" y="1031.22" width="1.31" height="1.31"/><rect x="742.01" y="1031.22" width="1.31" height="1.31"/><rect x="743.27" y="1031.22" width="1.31" height="1.31"/><rect x="744.53" y="1031.22" width="1.31" height="1.31"/><rect x="747.05" y="1031.22" width="1.31" height="1.31"/><rect x="748.30" y="1031.22" width="1.31" height="1.31"/><rect x="749.56" y="1031.22" width="1.31" height="1.31"/><rect x="750.82" y="1031.22" width="1.31" height="1.31"/><rect x="755.86" y="1031.22" width="1.31" height="1.31"/><rect x="760.89" y="1031.22" width="1.31" height="1.31"/><rect x="763.41" y="1031.22" width="1.31" height="1.31"/><rect x="764.67" y="1031.22" width="1.31" height="1.31"/><rect x="765.92" y="1031.22" width="1.31" height="1.31"/><rect x="768.44" y="1031.22" width="1.31" height="1.31"/><rect x="718.10" y="1032.48" width="1.31" height="1.31"/><rect x="720.62" y="1032.48" width="1.31" height="1.31"/><rect x="721.88" y="1032.48" width="1.31" height="1.31"/><rect x="723.13" y="1032.48" width="1.31" height="1.31"/><rect x="725.65" y="1032.48" width="1.31" height="1.31"/><rect x="728.17" y="1032.48" width="1.31" height="1.31"/><rect x="729.43" y="1032.48" width="1.31" height="1.31"/><rect x="730.69" y="1032.48" width="1.31" height="1.31"/><rect x="731.94" y="1032.48" width="1.31" height="1.31"/><rect x="735.72" y="1032.48" width="1.31" height="1.31"/><rect x="736.98" y="1032.48" width="1.31" height="1.31"/><rect x="738.24" y="1032.48" width="1.31" height="1.31"/><rect x="739.50" y="1032.48" width="1.31" height="1.31"/><rect x="740.75" y="1032.48" width="1.31" height="1.31"/><rect x="744.53" y="1032.48" width="1.31" height="1.31"/><rect x="745.79" y="1032.48" width="1.31" height="1.31"/><rect x="747.05" y="1032.48" width="1.31" height="1.31"/><rect x="748.30" y="1032.48" width="1.31" height="1.31"/><rect x="749.56" y="1032.48" width="1.31" height="1.31"/><rect x="750.82" y="1032.48" width="1.31" height="1.31"/><rect x="753.34" y="1032.48" width="1.31" height="1.31"/><rect x="754.60" y="1032.48" width="1.31" height="1.31"/><rect x="757.11" y="1032.48" width="1.31" height="1.31"/><rect x="758.37" y="1032.48" width="1.31" height="1.31"/><rect x="760.89" y="1032.48" width="1.31" height="1.31"/><rect x="763.41" y="1032.48" width="1.31" height="1.31"/><rect x="764.67" y="1032.48" width="1.31" height="1.31"/><rect x="765.92" y="1032.48" width="1.31" height="1.31"/><rect x="768.44" y="1032.48" width="1.31" height="1.31"/><rect x="718.10" y="1033.73" width="1.31" height="1.31"/><rect x="720.62" y="1033.73" width="1.31" height="1.31"/><rect x="721.88" y="1033.73" width="1.31" height="1.31"/><rect x="723.13" y="1033.73" width="1.31" height="1.31"/><rect x="725.65" y="1033.73" width="1.31" height="1.31"/><rect x="733.20" y="1033.73" width="1.31" height="1.31"/><rect x="734.46" y="1033.73" width="1.31" height="1.31"/><rect x="735.72" y="1033.73" width="1.31" height="1.31"/><rect x="736.98" y="1033.73" width="1.31" height="1.31"/><rect x="738.24" y="1033.73" width="1.31" height="1.31"/><rect x="739.50" y="1033.73" width="1.31" height="1.31"/><rect x="740.75" y="1033.73" width="1.31" height="1.31"/><rect x="744.53" y="1033.73" width="1.31" height="1.31"/><rect x="749.56" y="1033.73" width="1.31" height="1.31"/><rect x="750.82" y="1033.73" width="1.31" height="1.31"/><rect x="752.08" y="1033.73" width="1.31" height="1.31"/><rect x="753.34" y="1033.73" width="1.31" height="1.31"/><rect x="754.60" y="1033.73" width="1.31" height="1.31"/><rect x="760.89" y="1033.73" width="1.31" height="1.31"/><rect x="763.41" y="1033.73" width="1.31" height="1.31"/><rect x="764.67" y="1033.73" width="1.31" height="1.31"/><rect x="765.92" y="1033.73" width="1.31" height="1.31"/><rect x="768.44" y="1033.73" width="1.31" height="1.31"/><rect x="718.10" y="1034.99" width="1.31" height="1.31"/><rect x="725.65" y="1034.99" width="1.31" height="1.31"/><rect x="730.69" y="1034.99" width="1.31" height="1.31"/><rect x="731.94" y="1034.99" width="1.31" height="1.31"/><rect x="733.20" y="1034.99" width="1.31" height="1.31"/><rect x="736.98" y="1034.99" width="1.31" height="1.31"/><rect x="742.01" y="1034.99" width="1.31" height="1.31"/><rect x="743.27" y="1034.99" width="1.31" height="1.31"/><rect x="744.53" y="1034.99" width="1.31" height="1.31"/><rect x="745.79" y="1034.99" width="1.31" height="1.31"/><rect x="749.56" y="1034.99" width="1.31" height="1.31"/><rect x="752.08" y="1034.99" width="1.31" height="1.31"/><rect x="755.86" y="1034.99" width="1.31" height="1.31"/><rect x="757.11" y="1034.99" width="1.31" height="1.31"/><rect x="758.37" y="1034.99" width="1.31" height="1.31"/><rect x="760.89" y="1034.99" width="1.31" height="1.31"/><rect x="768.44" y="1034.99" width="1.31" height="1.31"/><rect x="718.10" y="1036.25" width="1.31" height="1.31"/><rect x="719.36" y="1036.25" width="1.31" height="1.31"/><rect x="720.62" y="1036.25" width="1.31" height="1.31"/><rect x="721.88" y="1036.25" width="1.31" height="1.31"/><rect x="723.13" y="1036.25" width="1.31" height="1.31"/><rect x="724.39" y="1036.25" width="1.31" height="1.31"/><rect x="725.65" y="1036.25" width="1.31" height="1.31"/><rect x="728.17" y="1036.25" width="1.31" height="1.31"/><rect x="730.69" y="1036.25" width="1.31" height="1.31"/><rect x="733.20" y="1036.25" width="1.31" height="1.31"/><rect x="735.72" y="1036.25" width="1.31" height="1.31"/><rect x="738.24" y="1036.25" width="1.31" height="1.31"/><rect x="740.75" y="1036.25" width="1.31" height="1.31"/><rect x="743.27" y="1036.25" width="1.31" height="1.31"/><rect x="745.79" y="1036.25" width="1.31" height="1.31"/><rect x="748.30" y="1036.25" width="1.31" height="1.31"/><rect x="750.82" y="1036.25" width="1.31" height="1.31"/><rect x="753.34" y="1036.25" width="1.31" height="1.31"/><rect x="755.86" y="1036.25" width="1.31" height="1.31"/><rect x="758.37" y="1036.25" width="1.31" height="1.31"/><rect x="760.89" y="1036.25" width="1.31" height="1.31"/><rect x="762.15" y="1036.25" width="1.31" height="1.31"/><rect x="763.41" y="1036.25" width="1.31" height="1.31"/><rect x="764.67" y="1036.25" width="1.31" height="1.31"/><rect x="765.92" y="1036.25" width="1.31" height="1.31"/><rect x="767.18" y="1036.25" width="1.31" height="1.31"/><rect x="768.44" y="1036.25" width="1.31" height="1.31"/><rect x="728.17" y="1037.51" width="1.31" height="1.31"/><rect x="729.43" y="1037.51" width="1.31" height="1.31"/><rect x="734.46" y="1037.51" width="1.31" height="1.31"/><rect x="738.24" y="1037.51" width="1.31" height="1.31"/><rect x="742.01" y="1037.51" width="1.31" height="1.31"/><rect x="744.53" y="1037.51" width="1.31" height="1.31"/><rect x="745.79" y="1037.51" width="1.31" height="1.31"/><rect x="749.56" y="1037.51" width="1.31" height="1.31"/><rect x="750.82" y="1037.51" width="1.31" height="1.31"/><rect x="752.08" y="1037.51" width="1.31" height="1.31"/><rect x="753.34" y="1037.51" width="1.31" height="1.31"/><rect x="754.60" y="1037.51" width="1.31" height="1.31"/><rect x="755.86" y="1037.51" width="1.31" height="1.31"/><rect x="758.37" y="1037.51" width="1.31" height="1.31"/><rect x="720.62" y="1038.77" width="1.31" height="1.31"/><rect x="721.88" y="1038.77" width="1.31" height="1.31"/><rect x="723.13" y="1038.77" width="1.31" height="1.31"/><rect x="725.65" y="1038.77" width="1.31" height="1.31"/><rect x="726.91" y="1038.77" width="1.31" height="1.31"/><rect x="728.17" y="1038.77" width="1.31" height="1.31"/><rect x="731.94" y="1038.77" width="1.31" height="1.31"/><rect x="733.20" y="1038.77" width="1.31" height="1.31"/><rect x="738.24" y="1038.77" width="1.31" height="1.31"/><rect x="739.50" y="1038.77" width="1.31" height="1.31"/><rect x="742.01" y="1038.77" width="1.31" height="1.31"/><rect x="743.27" y="1038.77" width="1.31" height="1.31"/><rect x="748.30" y="1038.77" width="1.31" height="1.31"/><rect x="750.82" y="1038.77" width="1.31" height="1.31"/><rect x="753.34" y="1038.77" width="1.31" height="1.31"/><rect x="754.60" y="1038.77" width="1.31" height="1.31"/><rect x="755.86" y="1038.77" width="1.31" height="1.31"/><rect x="758.37" y="1038.77" width="1.31" height="1.31"/><rect x="759.63" y="1038.77" width="1.31" height="1.31"/><rect x="760.89" y="1038.77" width="1.31" height="1.31"/><rect x="762.15" y="1038.77" width="1.31" height="1.31"/><rect x="763.41" y="1038.77" width="1.31" height="1.31"/><rect x="764.67" y="1038.77" width="1.31" height="1.31"/><rect x="765.92" y="1038.77" width="1.31" height="1.31"/><rect x="767.18" y="1038.77" width="1.31" height="1.31"/><rect x="768.44" y="1038.77" width="1.31" height="1.31"/><rect x="718.10" y="1040.03" width="1.31" height="1.31"/><rect x="720.62" y="1040.03" width="1.31" height="1.31"/><rect x="721.88" y="1040.03" width="1.31" height="1.31"/><rect x="723.13" y="1040.03" width="1.31" height="1.31"/><rect x="724.39" y="1040.03" width="1.31" height="1.31"/><rect x="726.91" y="1040.03" width="1.31" height="1.31"/><rect x="728.17" y="1040.03" width="1.31" height="1.31"/><rect x="730.69" y="1040.03" width="1.31" height="1.31"/><rect x="731.94" y="1040.03" width="1.31" height="1.31"/><rect x="733.20" y="1040.03" width="1.31" height="1.31"/><rect x="735.72" y="1040.03" width="1.31" height="1.31"/><rect x="738.24" y="1040.03" width="1.31" height="1.31"/><rect x="739.50" y="1040.03" width="1.31" height="1.31"/><rect x="742.01" y="1040.03" width="1.31" height="1.31"/><rect x="743.27" y="1040.03" width="1.31" height="1.31"/><rect x="747.05" y="1040.03" width="1.31" height="1.31"/><rect x="752.08" y="1040.03" width="1.31" height="1.31"/><rect x="753.34" y="1040.03" width="1.31" height="1.31"/><rect x="754.60" y="1040.03" width="1.31" height="1.31"/><rect x="755.86" y="1040.03" width="1.31" height="1.31"/><rect x="757.11" y="1040.03" width="1.31" height="1.31"/><rect x="759.63" y="1040.03" width="1.31" height="1.31"/><rect x="760.89" y="1040.03" width="1.31" height="1.31"/><rect x="762.15" y="1040.03" width="1.31" height="1.31"/><rect x="767.18" y="1040.03" width="1.31" height="1.31"/><rect x="768.44" y="1040.03" width="1.31" height="1.31"/><rect x="718.10" y="1041.29" width="1.31" height="1.31"/><rect x="719.36" y="1041.29" width="1.31" height="1.31"/><rect x="720.62" y="1041.29" width="1.31" height="1.31"/><rect x="721.88" y="1041.29" width="1.31" height="1.31"/><rect x="723.13" y="1041.29" width="1.31" height="1.31"/><rect x="725.65" y="1041.29" width="1.31" height="1.31"/><rect x="726.91" y="1041.29" width="1.31" height="1.31"/><rect x="728.17" y="1041.29" width="1.31" height="1.31"/><rect x="730.69" y="1041.29" width="1.31" height="1.31"/><rect x="731.94" y="1041.29" width="1.31" height="1.31"/><rect x="733.20" y="1041.29" width="1.31" height="1.31"/><rect x="734.46" y="1041.29" width="1.31" height="1.31"/><rect x="735.72" y="1041.29" width="1.31" height="1.31"/><rect x="736.98" y="1041.29" width="1.31" height="1.31"/><rect x="738.24" y="1041.29" width="1.31" height="1.31"/><rect x="739.50" y="1041.29" width="1.31" height="1.31"/><rect x="740.75" y="1041.29" width="1.31" height="1.31"/><rect x="742.01" y="1041.29" width="1.31" height="1.31"/><rect x="743.27" y="1041.29" width="1.31" height="1.31"/><rect x="744.53" y="1041.29" width="1.31" height="1.31"/><rect x="745.79" y="1041.29" width="1.31" height="1.31"/><rect x="747.05" y="1041.29" width="1.31" height="1.31"/><rect x="748.30" y="1041.29" width="1.31" height="1.31"/><rect x="749.56" y="1041.29" width="1.31" height="1.31"/><rect x="752.08" y="1041.29" width="1.31" height="1.31"/><rect x="758.37" y="1041.29" width="1.31" height="1.31"/><rect x="759.63" y="1041.29" width="1.31" height="1.31"/><rect x="762.15" y="1041.29" width="1.31" height="1.31"/><rect x="765.92" y="1041.29" width="1.31" height="1.31"/><rect x="721.88" y="1042.54" width="1.31" height="1.31"/><rect x="723.13" y="1042.54" width="1.31" height="1.31"/><rect x="724.39" y="1042.54" width="1.31" height="1.31"/><rect x="734.46" y="1042.54" width="1.31" height="1.31"/><rect x="735.72" y="1042.54" width="1.31" height="1.31"/><rect x="736.98" y="1042.54" width="1.31" height="1.31"/><rect x="738.24" y="1042.54" width="1.31" height="1.31"/><rect x="739.50" y="1042.54" width="1.31" height="1.31"/><rect x="742.01" y="1042.54" width="1.31" height="1.31"/><rect x="747.05" y="1042.54" width="1.31" height="1.31"/><rect x="748.30" y="1042.54" width="1.31" height="1.31"/><rect x="752.08" y="1042.54" width="1.31" height="1.31"/><rect x="753.34" y="1042.54" width="1.31" height="1.31"/><rect x="755.86" y="1042.54" width="1.31" height="1.31"/><rect x="758.37" y="1042.54" width="1.31" height="1.31"/><rect x="759.63" y="1042.54" width="1.31" height="1.31"/><rect x="760.89" y="1042.54" width="1.31" height="1.31"/><rect x="763.41" y="1042.54" width="1.31" height="1.31"/><rect x="767.18" y="1042.54" width="1.31" height="1.31"/><rect x="768.44" y="1042.54" width="1.31" height="1.31"/><rect x="718.10" y="1043.80" width="1.31" height="1.31"/><rect x="724.39" y="1043.80" width="1.31" height="1.31"/><rect x="725.65" y="1043.80" width="1.31" height="1.31"/><rect x="726.91" y="1043.80" width="1.31" height="1.31"/><rect x="729.43" y="1043.80" width="1.31" height="1.31"/><rect x="731.94" y="1043.80" width="1.31" height="1.31"/><rect x="733.20" y="1043.80" width="1.31" height="1.31"/><rect x="734.46" y="1043.80" width="1.31" height="1.31"/><rect x="739.50" y="1043.80" width="1.31" height="1.31"/><rect x="740.75" y="1043.80" width="1.31" height="1.31"/><rect x="742.01" y="1043.80" width="1.31" height="1.31"/><rect x="743.27" y="1043.80" width="1.31" height="1.31"/><rect x="744.53" y="1043.80" width="1.31" height="1.31"/><rect x="747.05" y="1043.80" width="1.31" height="1.31"/><rect x="750.82" y="1043.80" width="1.31" height="1.31"/><rect x="752.08" y="1043.80" width="1.31" height="1.31"/><rect x="755.86" y="1043.80" width="1.31" height="1.31"/><rect x="757.11" y="1043.80" width="1.31" height="1.31"/><rect x="758.37" y="1043.80" width="1.31" height="1.31"/><rect x="760.89" y="1043.80" width="1.31" height="1.31"/><rect x="763.41" y="1043.80" width="1.31" height="1.31"/><rect x="764.67" y="1043.80" width="1.31" height="1.31"/><rect x="767.18" y="1043.80" width="1.31" height="1.31"/><rect x="718.10" y="1045.06" width="1.31" height="1.31"/><rect x="721.88" y="1045.06" width="1.31" height="1.31"/><rect x="724.39" y="1045.06" width="1.31" height="1.31"/><rect x="726.91" y="1045.06" width="1.31" height="1.31"/><rect x="728.17" y="1045.06" width="1.31" height="1.31"/><rect x="729.43" y="1045.06" width="1.31" height="1.31"/><rect x="730.69" y="1045.06" width="1.31" height="1.31"/><rect x="731.94" y="1045.06" width="1.31" height="1.31"/><rect x="733.20" y="1045.06" width="1.31" height="1.31"/><rect x="734.46" y="1045.06" width="1.31" height="1.31"/><rect x="736.98" y="1045.06" width="1.31" height="1.31"/><rect x="740.75" y="1045.06" width="1.31" height="1.31"/><rect x="745.79" y="1045.06" width="1.31" height="1.31"/><rect x="747.05" y="1045.06" width="1.31" height="1.31"/><rect x="748.30" y="1045.06" width="1.31" height="1.31"/><rect x="752.08" y="1045.06" width="1.31" height="1.31"/><rect x="753.34" y="1045.06" width="1.31" height="1.31"/><rect x="754.60" y="1045.06" width="1.31" height="1.31"/><rect x="755.86" y="1045.06" width="1.31" height="1.31"/><rect x="757.11" y="1045.06" width="1.31" height="1.31"/><rect x="759.63" y="1045.06" width="1.31" height="1.31"/><rect x="762.15" y="1045.06" width="1.31" height="1.31"/><rect x="763.41" y="1045.06" width="1.31" height="1.31"/><rect x="764.67" y="1045.06" width="1.31" height="1.31"/><rect x="765.92" y="1045.06" width="1.31" height="1.31"/><rect x="767.18" y="1045.06" width="1.31" height="1.31"/><rect x="724.39" y="1046.32" width="1.31" height="1.31"/><rect x="725.65" y="1046.32" width="1.31" height="1.31"/><rect x="726.91" y="1046.32" width="1.31" height="1.31"/><rect x="729.43" y="1046.32" width="1.31" height="1.31"/><rect x="733.20" y="1046.32" width="1.31" height="1.31"/><rect x="734.46" y="1046.32" width="1.31" height="1.31"/><rect x="736.98" y="1046.32" width="1.31" height="1.31"/><rect x="738.24" y="1046.32" width="1.31" height="1.31"/><rect x="739.50" y="1046.32" width="1.31" height="1.31"/><rect x="740.75" y="1046.32" width="1.31" height="1.31"/><rect x="744.53" y="1046.32" width="1.31" height="1.31"/><rect x="747.05" y="1046.32" width="1.31" height="1.31"/><rect x="748.30" y="1046.32" width="1.31" height="1.31"/><rect x="749.56" y="1046.32" width="1.31" height="1.31"/><rect x="750.82" y="1046.32" width="1.31" height="1.31"/><rect x="752.08" y="1046.32" width="1.31" height="1.31"/><rect x="753.34" y="1046.32" width="1.31" height="1.31"/><rect x="755.86" y="1046.32" width="1.31" height="1.31"/><rect x="757.11" y="1046.32" width="1.31" height="1.31"/><rect x="760.89" y="1046.32" width="1.31" height="1.31"/><rect x="762.15" y="1046.32" width="1.31" height="1.31"/><rect x="763.41" y="1046.32" width="1.31" height="1.31"/><rect x="764.67" y="1046.32" width="1.31" height="1.31"/><rect x="765.92" y="1046.32" width="1.31" height="1.31"/><rect x="767.18" y="1046.32" width="1.31" height="1.31"/><rect x="768.44" y="1046.32" width="1.31" height="1.31"/><rect x="718.10" y="1047.58" width="1.31" height="1.31"/><rect x="723.13" y="1047.58" width="1.31" height="1.31"/><rect x="724.39" y="1047.58" width="1.31" height="1.31"/><rect x="726.91" y="1047.58" width="1.31" height="1.31"/><rect x="728.17" y="1047.58" width="1.31" height="1.31"/><rect x="729.43" y="1047.58" width="1.31" height="1.31"/><rect x="730.69" y="1047.58" width="1.31" height="1.31"/><rect x="733.20" y="1047.58" width="1.31" height="1.31"/><rect x="734.46" y="1047.58" width="1.31" height="1.31"/><rect x="738.24" y="1047.58" width="1.31" height="1.31"/><rect x="739.50" y="1047.58" width="1.31" height="1.31"/><rect x="740.75" y="1047.58" width="1.31" height="1.31"/><rect x="742.01" y="1047.58" width="1.31" height="1.31"/><rect x="743.27" y="1047.58" width="1.31" height="1.31"/><rect x="748.30" y="1047.58" width="1.31" height="1.31"/><rect x="749.56" y="1047.58" width="1.31" height="1.31"/><rect x="753.34" y="1047.58" width="1.31" height="1.31"/><rect x="755.86" y="1047.58" width="1.31" height="1.31"/><rect x="757.11" y="1047.58" width="1.31" height="1.31"/><rect x="763.41" y="1047.58" width="1.31" height="1.31"/><rect x="764.67" y="1047.58" width="1.31" height="1.31"/><rect x="765.92" y="1047.58" width="1.31" height="1.31"/><rect x="767.18" y="1047.58" width="1.31" height="1.31"/><rect x="723.13" y="1048.84" width="1.31" height="1.31"/><rect x="724.39" y="1048.84" width="1.31" height="1.31"/><rect x="725.65" y="1048.84" width="1.31" height="1.31"/><rect x="728.17" y="1048.84" width="1.31" height="1.31"/><rect x="731.94" y="1048.84" width="1.31" height="1.31"/><rect x="733.20" y="1048.84" width="1.31" height="1.31"/><rect x="734.46" y="1048.84" width="1.31" height="1.31"/><rect x="738.24" y="1048.84" width="1.31" height="1.31"/><rect x="739.50" y="1048.84" width="1.31" height="1.31"/><rect x="740.75" y="1048.84" width="1.31" height="1.31"/><rect x="743.27" y="1048.84" width="1.31" height="1.31"/><rect x="744.53" y="1048.84" width="1.31" height="1.31"/><rect x="747.05" y="1048.84" width="1.31" height="1.31"/><rect x="748.30" y="1048.84" width="1.31" height="1.31"/><rect x="749.56" y="1048.84" width="1.31" height="1.31"/><rect x="754.60" y="1048.84" width="1.31" height="1.31"/><rect x="755.86" y="1048.84" width="1.31" height="1.31"/><rect x="757.11" y="1048.84" width="1.31" height="1.31"/><rect x="760.89" y="1048.84" width="1.31" height="1.31"/><rect x="762.15" y="1048.84" width="1.31" height="1.31"/><rect x="763.41" y="1048.84" width="1.31" height="1.31"/><rect x="765.92" y="1048.84" width="1.31" height="1.31"/><rect x="767.18" y="1048.84" width="1.31" height="1.31"/><rect x="719.36" y="1050.10" width="1.31" height="1.31"/><rect x="720.62" y="1050.10" width="1.31" height="1.31"/><rect x="721.88" y="1050.10" width="1.31" height="1.31"/><rect x="723.13" y="1050.10" width="1.31" height="1.31"/><rect x="729.43" y="1050.10" width="1.31" height="1.31"/><rect x="730.69" y="1050.10" width="1.31" height="1.31"/><rect x="733.20" y="1050.10" width="1.31" height="1.31"/><rect x="735.72" y="1050.10" width="1.31" height="1.31"/><rect x="736.98" y="1050.10" width="1.31" height="1.31"/><rect x="739.50" y="1050.10" width="1.31" height="1.31"/><rect x="742.01" y="1050.10" width="1.31" height="1.31"/><rect x="743.27" y="1050.10" width="1.31" height="1.31"/><rect x="744.53" y="1050.10" width="1.31" height="1.31"/><rect x="745.79" y="1050.10" width="1.31" height="1.31"/><rect x="749.56" y="1050.10" width="1.31" height="1.31"/><rect x="750.82" y="1050.10" width="1.31" height="1.31"/><rect x="752.08" y="1050.10" width="1.31" height="1.31"/><rect x="754.60" y="1050.10" width="1.31" height="1.31"/><rect x="755.86" y="1050.10" width="1.31" height="1.31"/><rect x="757.11" y="1050.10" width="1.31" height="1.31"/><rect x="758.37" y="1050.10" width="1.31" height="1.31"/><rect x="765.92" y="1050.10" width="1.31" height="1.31"/><rect x="767.18" y="1050.10" width="1.31" height="1.31"/><rect x="719.36" y="1051.35" width="1.31" height="1.31"/><rect x="721.88" y="1051.35" width="1.31" height="1.31"/><rect x="723.13" y="1051.35" width="1.31" height="1.31"/><rect x="724.39" y="1051.35" width="1.31" height="1.31"/><rect x="725.65" y="1051.35" width="1.31" height="1.31"/><rect x="726.91" y="1051.35" width="1.31" height="1.31"/><rect x="728.17" y="1051.35" width="1.31" height="1.31"/><rect x="729.43" y="1051.35" width="1.31" height="1.31"/><rect x="731.94" y="1051.35" width="1.31" height="1.31"/><rect x="734.46" y="1051.35" width="1.31" height="1.31"/><rect x="735.72" y="1051.35" width="1.31" height="1.31"/><rect x="739.50" y="1051.35" width="1.31" height="1.31"/><rect x="740.75" y="1051.35" width="1.31" height="1.31"/><rect x="742.01" y="1051.35" width="1.31" height="1.31"/><rect x="743.27" y="1051.35" width="1.31" height="1.31"/><rect x="745.79" y="1051.35" width="1.31" height="1.31"/><rect x="747.05" y="1051.35" width="1.31" height="1.31"/><rect x="749.56" y="1051.35" width="1.31" height="1.31"/><rect x="750.82" y="1051.35" width="1.31" height="1.31"/><rect x="754.60" y="1051.35" width="1.31" height="1.31"/><rect x="755.86" y="1051.35" width="1.31" height="1.31"/><rect x="757.11" y="1051.35" width="1.31" height="1.31"/><rect x="759.63" y="1051.35" width="1.31" height="1.31"/><rect x="763.41" y="1051.35" width="1.31" height="1.31"/><rect x="764.67" y="1051.35" width="1.31" height="1.31"/><rect x="768.44" y="1051.35" width="1.31" height="1.31"/><rect x="719.36" y="1052.61" width="1.31" height="1.31"/><rect x="720.62" y="1052.61" width="1.31" height="1.31"/><rect x="721.88" y="1052.61" width="1.31" height="1.31"/><rect x="728.17" y="1052.61" width="1.31" height="1.31"/><rect x="729.43" y="1052.61" width="1.31" height="1.31"/><rect x="730.69" y="1052.61" width="1.31" height="1.31"/><rect x="734.46" y="1052.61" width="1.31" height="1.31"/><rect x="735.72" y="1052.61" width="1.31" height="1.31"/><rect x="736.98" y="1052.61" width="1.31" height="1.31"/><rect x="738.24" y="1052.61" width="1.31" height="1.31"/><rect x="740.75" y="1052.61" width="1.31" height="1.31"/><rect x="748.30" y="1052.61" width="1.31" height="1.31"/><rect x="749.56" y="1052.61" width="1.31" height="1.31"/><rect x="750.82" y="1052.61" width="1.31" height="1.31"/><rect x="753.34" y="1052.61" width="1.31" height="1.31"/><rect x="754.60" y="1052.61" width="1.31" height="1.31"/><rect x="757.11" y="1052.61" width="1.31" height="1.31"/><rect x="758.37" y="1052.61" width="1.31" height="1.31"/><rect x="759.63" y="1052.61" width="1.31" height="1.31"/><rect x="760.89" y="1052.61" width="1.31" height="1.31"/><rect x="762.15" y="1052.61" width="1.31" height="1.31"/><rect x="767.18" y="1052.61" width="1.31" height="1.31"/><rect x="768.44" y="1052.61" width="1.31" height="1.31"/><rect x="718.10" y="1053.87" width="1.31" height="1.31"/><rect x="719.36" y="1053.87" width="1.31" height="1.31"/><rect x="721.88" y="1053.87" width="1.31" height="1.31"/><rect x="723.13" y="1053.87" width="1.31" height="1.31"/><rect x="724.39" y="1053.87" width="1.31" height="1.31"/><rect x="725.65" y="1053.87" width="1.31" height="1.31"/><rect x="731.94" y="1053.87" width="1.31" height="1.31"/><rect x="734.46" y="1053.87" width="1.31" height="1.31"/><rect x="736.98" y="1053.87" width="1.31" height="1.31"/><rect x="739.50" y="1053.87" width="1.31" height="1.31"/><rect x="740.75" y="1053.87" width="1.31" height="1.31"/><rect x="742.01" y="1053.87" width="1.31" height="1.31"/><rect x="743.27" y="1053.87" width="1.31" height="1.31"/><rect x="747.05" y="1053.87" width="1.31" height="1.31"/><rect x="748.30" y="1053.87" width="1.31" height="1.31"/><rect x="750.82" y="1053.87" width="1.31" height="1.31"/><rect x="752.08" y="1053.87" width="1.31" height="1.31"/><rect x="757.11" y="1053.87" width="1.31" height="1.31"/><rect x="758.37" y="1053.87" width="1.31" height="1.31"/><rect x="763.41" y="1053.87" width="1.31" height="1.31"/><rect x="764.67" y="1053.87" width="1.31" height="1.31"/><rect x="765.92" y="1053.87" width="1.31" height="1.31"/><rect x="767.18" y="1053.87" width="1.31" height="1.31"/><rect x="720.62" y="1055.13" width="1.31" height="1.31"/><rect x="723.13" y="1055.13" width="1.31" height="1.31"/><rect x="724.39" y="1055.13" width="1.31" height="1.31"/><rect x="728.17" y="1055.13" width="1.31" height="1.31"/><rect x="731.94" y="1055.13" width="1.31" height="1.31"/><rect x="733.20" y="1055.13" width="1.31" height="1.31"/><rect x="734.46" y="1055.13" width="1.31" height="1.31"/><rect x="735.72" y="1055.13" width="1.31" height="1.31"/><rect x="736.98" y="1055.13" width="1.31" height="1.31"/><rect x="740.75" y="1055.13" width="1.31" height="1.31"/><rect x="742.01" y="1055.13" width="1.31" height="1.31"/><rect x="743.27" y="1055.13" width="1.31" height="1.31"/><rect x="745.79" y="1055.13" width="1.31" height="1.31"/><rect x="747.05" y="1055.13" width="1.31" height="1.31"/><rect x="748.30" y="1055.13" width="1.31" height="1.31"/><rect x="750.82" y="1055.13" width="1.31" height="1.31"/><rect x="752.08" y="1055.13" width="1.31" height="1.31"/><rect x="753.34" y="1055.13" width="1.31" height="1.31"/><rect x="754.60" y="1055.13" width="1.31" height="1.31"/><rect x="755.86" y="1055.13" width="1.31" height="1.31"/><rect x="758.37" y="1055.13" width="1.31" height="1.31"/><rect x="759.63" y="1055.13" width="1.31" height="1.31"/><rect x="762.15" y="1055.13" width="1.31" height="1.31"/><rect x="763.41" y="1055.13" width="1.31" height="1.31"/><rect x="764.67" y="1055.13" width="1.31" height="1.31"/><rect x="767.18" y="1055.13" width="1.31" height="1.31"/><rect x="718.10" y="1056.39" width="1.31" height="1.31"/><rect x="719.36" y="1056.39" width="1.31" height="1.31"/><rect x="723.13" y="1056.39" width="1.31" height="1.31"/><rect x="724.39" y="1056.39" width="1.31" height="1.31"/><rect x="725.65" y="1056.39" width="1.31" height="1.31"/><rect x="726.91" y="1056.39" width="1.31" height="1.31"/><rect x="728.17" y="1056.39" width="1.31" height="1.31"/><rect x="730.69" y="1056.39" width="1.31" height="1.31"/><rect x="733.20" y="1056.39" width="1.31" height="1.31"/><rect x="735.72" y="1056.39" width="1.31" height="1.31"/><rect x="736.98" y="1056.39" width="1.31" height="1.31"/><rect x="738.24" y="1056.39" width="1.31" height="1.31"/><rect x="739.50" y="1056.39" width="1.31" height="1.31"/><rect x="743.27" y="1056.39" width="1.31" height="1.31"/><rect x="745.79" y="1056.39" width="1.31" height="1.31"/><rect x="747.05" y="1056.39" width="1.31" height="1.31"/><rect x="748.30" y="1056.39" width="1.31" height="1.31"/><rect x="749.56" y="1056.39" width="1.31" height="1.31"/><rect x="750.82" y="1056.39" width="1.31" height="1.31"/><rect x="753.34" y="1056.39" width="1.31" height="1.31"/><rect x="754.60" y="1056.39" width="1.31" height="1.31"/><rect x="758.37" y="1056.39" width="1.31" height="1.31"/><rect x="759.63" y="1056.39" width="1.31" height="1.31"/><rect x="763.41" y="1056.39" width="1.31" height="1.31"/><rect x="764.67" y="1056.39" width="1.31" height="1.31"/><rect x="767.18" y="1056.39" width="1.31" height="1.31"/><rect x="720.62" y="1057.65" width="1.31" height="1.31"/><rect x="723.13" y="1057.65" width="1.31" height="1.31"/><rect x="724.39" y="1057.65" width="1.31" height="1.31"/><rect x="728.17" y="1057.65" width="1.31" height="1.31"/><rect x="729.43" y="1057.65" width="1.31" height="1.31"/><rect x="730.69" y="1057.65" width="1.31" height="1.31"/><rect x="731.94" y="1057.65" width="1.31" height="1.31"/><rect x="733.20" y="1057.65" width="1.31" height="1.31"/><rect x="734.46" y="1057.65" width="1.31" height="1.31"/><rect x="735.72" y="1057.65" width="1.31" height="1.31"/><rect x="739.50" y="1057.65" width="1.31" height="1.31"/><rect x="743.27" y="1057.65" width="1.31" height="1.31"/><rect x="745.79" y="1057.65" width="1.31" height="1.31"/><rect x="748.30" y="1057.65" width="1.31" height="1.31"/><rect x="750.82" y="1057.65" width="1.31" height="1.31"/><rect x="752.08" y="1057.65" width="1.31" height="1.31"/><rect x="754.60" y="1057.65" width="1.31" height="1.31"/><rect x="757.11" y="1057.65" width="1.31" height="1.31"/><rect x="758.37" y="1057.65" width="1.31" height="1.31"/><rect x="759.63" y="1057.65" width="1.31" height="1.31"/><rect x="762.15" y="1057.65" width="1.31" height="1.31"/><rect x="763.41" y="1057.65" width="1.31" height="1.31"/><rect x="767.18" y="1057.65" width="1.31" height="1.31"/><rect x="768.44" y="1057.65" width="1.31" height="1.31"/><rect x="718.10" y="1058.90" width="1.31" height="1.31"/><rect x="719.36" y="1058.90" width="1.31" height="1.31"/><rect x="720.62" y="1058.90" width="1.31" height="1.31"/><rect x="721.88" y="1058.90" width="1.31" height="1.31"/><rect x="723.13" y="1058.90" width="1.31" height="1.31"/><rect x="724.39" y="1058.90" width="1.31" height="1.31"/><rect x="725.65" y="1058.90" width="1.31" height="1.31"/><rect x="726.91" y="1058.90" width="1.31" height="1.31"/><rect x="729.43" y="1058.90" width="1.31" height="1.31"/><rect x="733.20" y="1058.90" width="1.31" height="1.31"/><rect x="734.46" y="1058.90" width="1.31" height="1.31"/><rect x="735.72" y="1058.90" width="1.31" height="1.31"/><rect x="736.98" y="1058.90" width="1.31" height="1.31"/><rect x="739.50" y="1058.90" width="1.31" height="1.31"/><rect x="745.79" y="1058.90" width="1.31" height="1.31"/><rect x="748.30" y="1058.90" width="1.31" height="1.31"/><rect x="752.08" y="1058.90" width="1.31" height="1.31"/><rect x="755.86" y="1058.90" width="1.31" height="1.31"/><rect x="757.11" y="1058.90" width="1.31" height="1.31"/><rect x="759.63" y="1058.90" width="1.31" height="1.31"/><rect x="762.15" y="1058.90" width="1.31" height="1.31"/><rect x="764.67" y="1058.90" width="1.31" height="1.31"/><rect x="765.92" y="1058.90" width="1.31" height="1.31"/><rect x="768.44" y="1058.90" width="1.31" height="1.31"/><rect x="718.10" y="1060.16" width="1.31" height="1.31"/><rect x="719.36" y="1060.16" width="1.31" height="1.31"/><rect x="720.62" y="1060.16" width="1.31" height="1.31"/><rect x="721.88" y="1060.16" width="1.31" height="1.31"/><rect x="723.13" y="1060.16" width="1.31" height="1.31"/><rect x="724.39" y="1060.16" width="1.31" height="1.31"/><rect x="729.43" y="1060.16" width="1.31" height="1.31"/><rect x="731.94" y="1060.16" width="1.31" height="1.31"/><rect x="733.20" y="1060.16" width="1.31" height="1.31"/><rect x="735.72" y="1060.16" width="1.31" height="1.31"/><rect x="738.24" y="1060.16" width="1.31" height="1.31"/><rect x="742.01" y="1060.16" width="1.31" height="1.31"/><rect x="745.79" y="1060.16" width="1.31" height="1.31"/><rect x="748.30" y="1060.16" width="1.31" height="1.31"/><rect x="752.08" y="1060.16" width="1.31" height="1.31"/><rect x="754.60" y="1060.16" width="1.31" height="1.31"/><rect x="755.86" y="1060.16" width="1.31" height="1.31"/><rect x="758.37" y="1060.16" width="1.31" height="1.31"/><rect x="760.89" y="1060.16" width="1.31" height="1.31"/><rect x="767.18" y="1060.16" width="1.31" height="1.31"/><rect x="768.44" y="1060.16" width="1.31" height="1.31"/><rect x="718.10" y="1061.42" width="1.31" height="1.31"/><rect x="719.36" y="1061.42" width="1.31" height="1.31"/><rect x="721.88" y="1061.42" width="1.31" height="1.31"/><rect x="723.13" y="1061.42" width="1.31" height="1.31"/><rect x="725.65" y="1061.42" width="1.31" height="1.31"/><rect x="726.91" y="1061.42" width="1.31" height="1.31"/><rect x="729.43" y="1061.42" width="1.31" height="1.31"/><rect x="730.69" y="1061.42" width="1.31" height="1.31"/><rect x="731.94" y="1061.42" width="1.31" height="1.31"/><rect x="733.20" y="1061.42" width="1.31" height="1.31"/><rect x="734.46" y="1061.42" width="1.31" height="1.31"/><rect x="735.72" y="1061.42" width="1.31" height="1.31"/><rect x="739.50" y="1061.42" width="1.31" height="1.31"/><rect x="742.01" y="1061.42" width="1.31" height="1.31"/><rect x="743.27" y="1061.42" width="1.31" height="1.31"/><rect x="745.79" y="1061.42" width="1.31" height="1.31"/><rect x="747.05" y="1061.42" width="1.31" height="1.31"/><rect x="748.30" y="1061.42" width="1.31" height="1.31"/><rect x="753.34" y="1061.42" width="1.31" height="1.31"/><rect x="754.60" y="1061.42" width="1.31" height="1.31"/><rect x="755.86" y="1061.42" width="1.31" height="1.31"/><rect x="759.63" y="1061.42" width="1.31" height="1.31"/><rect x="762.15" y="1061.42" width="1.31" height="1.31"/><rect x="765.92" y="1061.42" width="1.31" height="1.31"/><rect x="768.44" y="1061.42" width="1.31" height="1.31"/><rect x="718.10" y="1062.68" width="1.31" height="1.31"/><rect x="719.36" y="1062.68" width="1.31" height="1.31"/><rect x="720.62" y="1062.68" width="1.31" height="1.31"/><rect x="721.88" y="1062.68" width="1.31" height="1.31"/><rect x="724.39" y="1062.68" width="1.31" height="1.31"/><rect x="728.17" y="1062.68" width="1.31" height="1.31"/><rect x="729.43" y="1062.68" width="1.31" height="1.31"/><rect x="731.94" y="1062.68" width="1.31" height="1.31"/><rect x="735.72" y="1062.68" width="1.31" height="1.31"/><rect x="736.98" y="1062.68" width="1.31" height="1.31"/><rect x="738.24" y="1062.68" width="1.31" height="1.31"/><rect x="739.50" y="1062.68" width="1.31" height="1.31"/><rect x="744.53" y="1062.68" width="1.31" height="1.31"/><rect x="748.30" y="1062.68" width="1.31" height="1.31"/><rect x="750.82" y="1062.68" width="1.31" height="1.31"/><rect x="752.08" y="1062.68" width="1.31" height="1.31"/><rect x="753.34" y="1062.68" width="1.31" height="1.31"/><rect x="754.60" y="1062.68" width="1.31" height="1.31"/><rect x="755.86" y="1062.68" width="1.31" height="1.31"/><rect x="757.11" y="1062.68" width="1.31" height="1.31"/><rect x="763.41" y="1062.68" width="1.31" height="1.31"/><rect x="764.67" y="1062.68" width="1.31" height="1.31"/><rect x="765.92" y="1062.68" width="1.31" height="1.31"/><rect x="768.44" y="1062.68" width="1.31" height="1.31"/><rect x="718.10" y="1063.94" width="1.31" height="1.31"/><rect x="721.88" y="1063.94" width="1.31" height="1.31"/><rect x="724.39" y="1063.94" width="1.31" height="1.31"/><rect x="725.65" y="1063.94" width="1.31" height="1.31"/><rect x="726.91" y="1063.94" width="1.31" height="1.31"/><rect x="731.94" y="1063.94" width="1.31" height="1.31"/><rect x="734.46" y="1063.94" width="1.31" height="1.31"/><rect x="735.72" y="1063.94" width="1.31" height="1.31"/><rect x="743.27" y="1063.94" width="1.31" height="1.31"/><rect x="748.30" y="1063.94" width="1.31" height="1.31"/><rect x="752.08" y="1063.94" width="1.31" height="1.31"/><rect x="753.34" y="1063.94" width="1.31" height="1.31"/><rect x="755.86" y="1063.94" width="1.31" height="1.31"/><rect x="758.37" y="1063.94" width="1.31" height="1.31"/><rect x="759.63" y="1063.94" width="1.31" height="1.31"/><rect x="760.89" y="1063.94" width="1.31" height="1.31"/><rect x="763.41" y="1063.94" width="1.31" height="1.31"/><rect x="764.67" y="1063.94" width="1.31" height="1.31"/><rect x="765.92" y="1063.94" width="1.31" height="1.31"/><rect x="767.18" y="1063.94" width="1.31" height="1.31"/><rect x="721.88" y="1065.20" width="1.31" height="1.31"/><rect x="724.39" y="1065.20" width="1.31" height="1.31"/><rect x="729.43" y="1065.20" width="1.31" height="1.31"/><rect x="734.46" y="1065.20" width="1.31" height="1.31"/><rect x="735.72" y="1065.20" width="1.31" height="1.31"/><rect x="736.98" y="1065.20" width="1.31" height="1.31"/><rect x="738.24" y="1065.20" width="1.31" height="1.31"/><rect x="745.79" y="1065.20" width="1.31" height="1.31"/><rect x="747.05" y="1065.20" width="1.31" height="1.31"/><rect x="748.30" y="1065.20" width="1.31" height="1.31"/><rect x="750.82" y="1065.20" width="1.31" height="1.31"/><rect x="752.08" y="1065.20" width="1.31" height="1.31"/><rect x="753.34" y="1065.20" width="1.31" height="1.31"/><rect x="754.60" y="1065.20" width="1.31" height="1.31"/><rect x="755.86" y="1065.20" width="1.31" height="1.31"/><rect x="757.11" y="1065.20" width="1.31" height="1.31"/><rect x="759.63" y="1065.20" width="1.31" height="1.31"/><rect x="760.89" y="1065.20" width="1.31" height="1.31"/><rect x="763.41" y="1065.20" width="1.31" height="1.31"/><rect x="767.18" y="1065.20" width="1.31" height="1.31"/><rect x="768.44" y="1065.20" width="1.31" height="1.31"/><rect x="718.10" y="1066.46" width="1.31" height="1.31"/><rect x="720.62" y="1066.46" width="1.31" height="1.31"/><rect x="723.13" y="1066.46" width="1.31" height="1.31"/><rect x="724.39" y="1066.46" width="1.31" height="1.31"/><rect x="725.65" y="1066.46" width="1.31" height="1.31"/><rect x="726.91" y="1066.46" width="1.31" height="1.31"/><rect x="729.43" y="1066.46" width="1.31" height="1.31"/><rect x="730.69" y="1066.46" width="1.31" height="1.31"/><rect x="731.94" y="1066.46" width="1.31" height="1.31"/><rect x="735.72" y="1066.46" width="1.31" height="1.31"/><rect x="736.98" y="1066.46" width="1.31" height="1.31"/><rect x="738.24" y="1066.46" width="1.31" height="1.31"/><rect x="740.75" y="1066.46" width="1.31" height="1.31"/><rect x="742.01" y="1066.46" width="1.31" height="1.31"/><rect x="743.27" y="1066.46" width="1.31" height="1.31"/><rect x="745.79" y="1066.46" width="1.31" height="1.31"/><rect x="748.30" y="1066.46" width="1.31" height="1.31"/><rect x="749.56" y="1066.46" width="1.31" height="1.31"/><rect x="752.08" y="1066.46" width="1.31" height="1.31"/><rect x="753.34" y="1066.46" width="1.31" height="1.31"/><rect x="755.86" y="1066.46" width="1.31" height="1.31"/><rect x="762.15" y="1066.46" width="1.31" height="1.31"/><rect x="763.41" y="1066.46" width="1.31" height="1.31"/><rect x="764.67" y="1066.46" width="1.31" height="1.31"/><rect x="767.18" y="1066.46" width="1.31" height="1.31"/><rect x="718.10" y="1067.71" width="1.31" height="1.31"/><rect x="719.36" y="1067.71" width="1.31" height="1.31"/><rect x="720.62" y="1067.71" width="1.31" height="1.31"/><rect x="723.13" y="1067.71" width="1.31" height="1.31"/><rect x="724.39" y="1067.71" width="1.31" height="1.31"/><rect x="726.91" y="1067.71" width="1.31" height="1.31"/><rect x="728.17" y="1067.71" width="1.31" height="1.31"/><rect x="729.43" y="1067.71" width="1.31" height="1.31"/><rect x="734.46" y="1067.71" width="1.31" height="1.31"/><rect x="735.72" y="1067.71" width="1.31" height="1.31"/><rect x="736.98" y="1067.71" width="1.31" height="1.31"/><rect x="742.01" y="1067.71" width="1.31" height="1.31"/><rect x="743.27" y="1067.71" width="1.31" height="1.31"/><rect x="747.05" y="1067.71" width="1.31" height="1.31"/><rect x="748.30" y="1067.71" width="1.31" height="1.31"/><rect x="750.82" y="1067.71" width="1.31" height="1.31"/><rect x="752.08" y="1067.71" width="1.31" height="1.31"/><rect x="753.34" y="1067.71" width="1.31" height="1.31"/><rect x="757.11" y="1067.71" width="1.31" height="1.31"/><rect x="758.37" y="1067.71" width="1.31" height="1.31"/><rect x="759.63" y="1067.71" width="1.31" height="1.31"/><rect x="760.89" y="1067.71" width="1.31" height="1.31"/><rect x="762.15" y="1067.71" width="1.31" height="1.31"/><rect x="763.41" y="1067.71" width="1.31" height="1.31"/><rect x="764.67" y="1067.71" width="1.31" height="1.31"/><rect x="765.92" y="1067.71" width="1.31" height="1.31"/><rect x="718.10" y="1068.97" width="1.31" height="1.31"/><rect x="720.62" y="1068.97" width="1.31" height="1.31"/><rect x="721.88" y="1068.97" width="1.31" height="1.31"/><rect x="725.65" y="1068.97" width="1.31" height="1.31"/><rect x="726.91" y="1068.97" width="1.31" height="1.31"/><rect x="728.17" y="1068.97" width="1.31" height="1.31"/><rect x="730.69" y="1068.97" width="1.31" height="1.31"/><rect x="731.94" y="1068.97" width="1.31" height="1.31"/><rect x="733.20" y="1068.97" width="1.31" height="1.31"/><rect x="734.46" y="1068.97" width="1.31" height="1.31"/><rect x="735.72" y="1068.97" width="1.31" height="1.31"/><rect x="739.50" y="1068.97" width="1.31" height="1.31"/><rect x="742.01" y="1068.97" width="1.31" height="1.31"/><rect x="743.27" y="1068.97" width="1.31" height="1.31"/><rect x="745.79" y="1068.97" width="1.31" height="1.31"/><rect x="749.56" y="1068.97" width="1.31" height="1.31"/><rect x="753.34" y="1068.97" width="1.31" height="1.31"/><rect x="754.60" y="1068.97" width="1.31" height="1.31"/><rect x="764.67" y="1068.97" width="1.31" height="1.31"/><rect x="765.92" y="1068.97" width="1.31" height="1.31"/><rect x="768.44" y="1068.97" width="1.31" height="1.31"/><rect x="728.17" y="1070.23" width="1.31" height="1.31"/><rect x="731.94" y="1070.23" width="1.31" height="1.31"/><rect x="735.72" y="1070.23" width="1.31" height="1.31"/><rect x="736.98" y="1070.23" width="1.31" height="1.31"/><rect x="739.50" y="1070.23" width="1.31" height="1.31"/><rect x="740.75" y="1070.23" width="1.31" height="1.31"/><rect x="742.01" y="1070.23" width="1.31" height="1.31"/><rect x="745.79" y="1070.23" width="1.31" height="1.31"/><rect x="747.05" y="1070.23" width="1.31" height="1.31"/><rect x="749.56" y="1070.23" width="1.31" height="1.31"/><rect x="752.08" y="1070.23" width="1.31" height="1.31"/><rect x="755.86" y="1070.23" width="1.31" height="1.31"/><rect x="757.11" y="1070.23" width="1.31" height="1.31"/><rect x="759.63" y="1070.23" width="1.31" height="1.31"/><rect x="762.15" y="1070.23" width="1.31" height="1.31"/><rect x="764.67" y="1070.23" width="1.31" height="1.31"/><rect x="767.18" y="1070.23" width="1.31" height="1.31"/><rect x="768.44" y="1070.23" width="1.31" height="1.31"/><rect x="718.10" y="1071.49" width="1.31" height="1.31"/><rect x="719.36" y="1071.49" width="1.31" height="1.31"/><rect x="720.62" y="1071.49" width="1.31" height="1.31"/><rect x="721.88" y="1071.49" width="1.31" height="1.31"/><rect x="723.13" y="1071.49" width="1.31" height="1.31"/><rect x="724.39" y="1071.49" width="1.31" height="1.31"/><rect x="725.65" y="1071.49" width="1.31" height="1.31"/><rect x="728.17" y="1071.49" width="1.31" height="1.31"/><rect x="731.94" y="1071.49" width="1.31" height="1.31"/><rect x="733.20" y="1071.49" width="1.31" height="1.31"/><rect x="735.72" y="1071.49" width="1.31" height="1.31"/><rect x="736.98" y="1071.49" width="1.31" height="1.31"/><rect x="738.24" y="1071.49" width="1.31" height="1.31"/><rect x="743.27" y="1071.49" width="1.31" height="1.31"/><rect x="745.79" y="1071.49" width="1.31" height="1.31"/><rect x="748.30" y="1071.49" width="1.31" height="1.31"/><rect x="753.34" y="1071.49" width="1.31" height="1.31"/><rect x="754.60" y="1071.49" width="1.31" height="1.31"/><rect x="755.86" y="1071.49" width="1.31" height="1.31"/><rect x="757.11" y="1071.49" width="1.31" height="1.31"/><rect x="759.63" y="1071.49" width="1.31" height="1.31"/><rect x="762.15" y="1071.49" width="1.31" height="1.31"/><rect x="763.41" y="1071.49" width="1.31" height="1.31"/><rect x="764.67" y="1071.49" width="1.31" height="1.31"/><rect x="765.92" y="1071.49" width="1.31" height="1.31"/><rect x="767.18" y="1071.49" width="1.31" height="1.31"/><rect x="768.44" y="1071.49" width="1.31" height="1.31"/><rect x="718.10" y="1072.75" width="1.31" height="1.31"/><rect x="725.65" y="1072.75" width="1.31" height="1.31"/><rect x="728.17" y="1072.75" width="1.31" height="1.31"/><rect x="731.94" y="1072.75" width="1.31" height="1.31"/><rect x="736.98" y="1072.75" width="1.31" height="1.31"/><rect x="740.75" y="1072.75" width="1.31" height="1.31"/><rect x="742.01" y="1072.75" width="1.31" height="1.31"/><rect x="745.79" y="1072.75" width="1.31" height="1.31"/><rect x="747.05" y="1072.75" width="1.31" height="1.31"/><rect x="748.30" y="1072.75" width="1.31" height="1.31"/><rect x="749.56" y="1072.75" width="1.31" height="1.31"/><rect x="752.08" y="1072.75" width="1.31" height="1.31"/><rect x="753.34" y="1072.75" width="1.31" height="1.31"/><rect x="757.11" y="1072.75" width="1.31" height="1.31"/><rect x="767.18" y="1072.75" width="1.31" height="1.31"/><rect x="718.10" y="1074.01" width="1.31" height="1.31"/><rect x="720.62" y="1074.01" width="1.31" height="1.31"/><rect x="721.88" y="1074.01" width="1.31" height="1.31"/><rect x="723.13" y="1074.01" width="1.31" height="1.31"/><rect x="725.65" y="1074.01" width="1.31" height="1.31"/><rect x="728.17" y="1074.01" width="1.31" height="1.31"/><rect x="729.43" y="1074.01" width="1.31" height="1.31"/><rect x="730.69" y="1074.01" width="1.31" height="1.31"/><rect x="731.94" y="1074.01" width="1.31" height="1.31"/><rect x="733.20" y="1074.01" width="1.31" height="1.31"/><rect x="734.46" y="1074.01" width="1.31" height="1.31"/><rect x="735.72" y="1074.01" width="1.31" height="1.31"/><rect x="738.24" y="1074.01" width="1.31" height="1.31"/><rect x="740.75" y="1074.01" width="1.31" height="1.31"/><rect x="745.79" y="1074.01" width="1.31" height="1.31"/><rect x="747.05" y="1074.01" width="1.31" height="1.31"/><rect x="749.56" y="1074.01" width="1.31" height="1.31"/><rect x="753.34" y="1074.01" width="1.31" height="1.31"/><rect x="758.37" y="1074.01" width="1.31" height="1.31"/><rect x="760.89" y="1074.01" width="1.31" height="1.31"/><rect x="762.15" y="1074.01" width="1.31" height="1.31"/><rect x="764.67" y="1074.01" width="1.31" height="1.31"/><rect x="768.44" y="1074.01" width="1.31" height="1.31"/><rect x="718.10" y="1075.27" width="1.31" height="1.31"/><rect x="720.62" y="1075.27" width="1.31" height="1.31"/><rect x="721.88" y="1075.27" width="1.31" height="1.31"/><rect x="723.13" y="1075.27" width="1.31" height="1.31"/><rect x="725.65" y="1075.27" width="1.31" height="1.31"/><rect x="728.17" y="1075.27" width="1.31" height="1.31"/><rect x="730.69" y="1075.27" width="1.31" height="1.31"/><rect x="733.20" y="1075.27" width="1.31" height="1.31"/><rect x="734.46" y="1075.27" width="1.31" height="1.31"/><rect x="735.72" y="1075.27" width="1.31" height="1.31"/><rect x="736.98" y="1075.27" width="1.31" height="1.31"/><rect x="742.01" y="1075.27" width="1.31" height="1.31"/><rect x="743.27" y="1075.27" width="1.31" height="1.31"/><rect x="744.53" y="1075.27" width="1.31" height="1.31"/><rect x="749.56" y="1075.27" width="1.31" height="1.31"/><rect x="753.34" y="1075.27" width="1.31" height="1.31"/><rect x="754.60" y="1075.27" width="1.31" height="1.31"/><rect x="755.86" y="1075.27" width="1.31" height="1.31"/><rect x="757.11" y="1075.27" width="1.31" height="1.31"/><rect x="758.37" y="1075.27" width="1.31" height="1.31"/><rect x="718.10" y="1076.52" width="1.31" height="1.31"/><rect x="720.62" y="1076.52" width="1.31" height="1.31"/><rect x="721.88" y="1076.52" width="1.31" height="1.31"/><rect x="723.13" y="1076.52" width="1.31" height="1.31"/><rect x="725.65" y="1076.52" width="1.31" height="1.31"/><rect x="728.17" y="1076.52" width="1.31" height="1.31"/><rect x="729.43" y="1076.52" width="1.31" height="1.31"/><rect x="734.46" y="1076.52" width="1.31" height="1.31"/><rect x="739.50" y="1076.52" width="1.31" height="1.31"/><rect x="740.75" y="1076.52" width="1.31" height="1.31"/><rect x="742.01" y="1076.52" width="1.31" height="1.31"/><rect x="743.27" y="1076.52" width="1.31" height="1.31"/><rect x="744.53" y="1076.52" width="1.31" height="1.31"/><rect x="748.30" y="1076.52" width="1.31" height="1.31"/><rect x="750.82" y="1076.52" width="1.31" height="1.31"/><rect x="752.08" y="1076.52" width="1.31" height="1.31"/><rect x="757.11" y="1076.52" width="1.31" height="1.31"/><rect x="758.37" y="1076.52" width="1.31" height="1.31"/><rect x="759.63" y="1076.52" width="1.31" height="1.31"/><rect x="764.67" y="1076.52" width="1.31" height="1.31"/><rect x="765.92" y="1076.52" width="1.31" height="1.31"/><rect x="767.18" y="1076.52" width="1.31" height="1.31"/><rect x="718.10" y="1077.78" width="1.31" height="1.31"/><rect x="725.65" y="1077.78" width="1.31" height="1.31"/><rect x="729.43" y="1077.78" width="1.31" height="1.31"/><rect x="730.69" y="1077.78" width="1.31" height="1.31"/><rect x="733.20" y="1077.78" width="1.31" height="1.31"/><rect x="735.72" y="1077.78" width="1.31" height="1.31"/><rect x="736.98" y="1077.78" width="1.31" height="1.31"/><rect x="743.27" y="1077.78" width="1.31" height="1.31"/><rect x="747.05" y="1077.78" width="1.31" height="1.31"/><rect x="749.56" y="1077.78" width="1.31" height="1.31"/><rect x="753.34" y="1077.78" width="1.31" height="1.31"/><rect x="754.60" y="1077.78" width="1.31" height="1.31"/><rect x="758.37" y="1077.78" width="1.31" height="1.31"/><rect x="759.63" y="1077.78" width="1.31" height="1.31"/><rect x="762.15" y="1077.78" width="1.31" height="1.31"/><rect x="764.67" y="1077.78" width="1.31" height="1.31"/><rect x="765.92" y="1077.78" width="1.31" height="1.31"/><rect x="767.18" y="1077.78" width="1.31" height="1.31"/><rect x="718.10" y="1079.04" width="1.31" height="1.31"/><rect x="719.36" y="1079.04" width="1.31" height="1.31"/><rect x="720.62" y="1079.04" width="1.31" height="1.31"/><rect x="721.88" y="1079.04" width="1.31" height="1.31"/><rect x="723.13" y="1079.04" width="1.31" height="1.31"/><rect x="724.39" y="1079.04" width="1.31" height="1.31"/><rect x="725.65" y="1079.04" width="1.31" height="1.31"/><rect x="728.17" y="1079.04" width="1.31" height="1.31"/><rect x="734.46" y="1079.04" width="1.31" height="1.31"/><rect x="735.72" y="1079.04" width="1.31" height="1.31"/><rect x="740.75" y="1079.04" width="1.31" height="1.31"/><rect x="747.05" y="1079.04" width="1.31" height="1.31"/><rect x="748.30" y="1079.04" width="1.31" height="1.31"/><rect x="750.82" y="1079.04" width="1.31" height="1.31"/><rect x="757.11" y="1079.04" width="1.31" height="1.31"/><rect x="758.37" y="1079.04" width="1.31" height="1.31"/><rect x="759.63" y="1079.04" width="1.31" height="1.31"/><rect x="760.89" y="1079.04" width="1.31" height="1.31"/><rect x="765.92" y="1079.04" width="1.31" height="1.31"/></g></svg>
<div class="t" style="left:708px;top:1019.5px;font-size:8px;font-weight:bold;color:#2E9A2E;transform:scale(0.47,0.5);">■ (公財)介護労働安定センター</div>
<div class="t" style="left:774.5px;top:1019.5px;font-size:8px;font-weight:bold;color:#2E9A2E;transform:scale(0.5,0.5);">実<br>働<br>等<br>介<br>護<br>労<br>働<br>宮<br>城<br>支<br>部<br>事<br>業<br>所<br>の<br>方<br>向</div>
<div class="t" style="left:707.5px;top:1029px;font-size:8px;font-weight:bold;color:#2E9A2E;transform:scale(0.5,0.5);">ホ<br>ー<br>ム<br>ペ<br>ー<br>ジ<br>宮<br>城<br>支<br>部<br>案<br>内<br>財<br>団</div>
<div class="t" style="left:709px;top:1086.5px;font-size:8px;font-weight:bold;color:#2E9A2E;transform:scale(0.46,0.5);">城遭こ　宮城県仙台　一般の方向け</div>
</body></html>
